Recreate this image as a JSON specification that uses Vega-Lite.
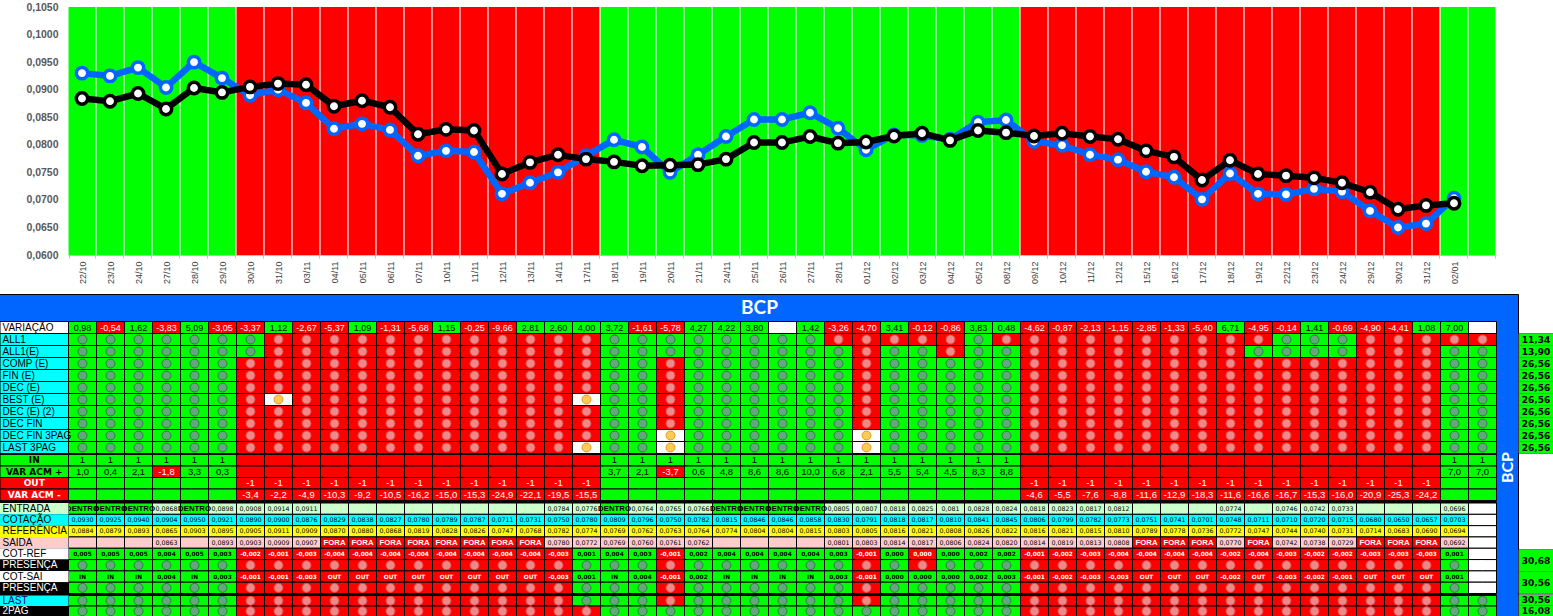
{"$schema":"https://vega.github.io/schema/vega-lite/v6.json","width":1553,"height":616,"padding":0,"autosize":"none","background":"white","config":{"view":{"stroke":null}},
"datasets":{
"chart":[{"d":"22/10","f":0.105,"e":"G","cot":0.0930,"ref":0.0884},{"d":"23/10","f":0.105,"e":"G","cot":0.0925,"ref":0.0879},{"d":"24/10","f":0.105,"e":"G","cot":0.0940,"ref":0.0893},{"d":"27/10","f":0.105,"e":"G","cot":0.0904,"ref":0.0865},{"d":"28/10","f":0.105,"e":"G","cot":0.0950,"ref":0.0903},{"d":"29/10","f":0.105,"e":"G","cot":0.0921,"ref":0.0895},{"d":"30/10","f":0.105,"e":"R","cot":0.0890,"ref":0.0905},{"d":"31/10","f":0.105,"e":"R","cot":0.0900,"ref":0.0911},{"d":"03/11","f":0.105,"e":"R","cot":0.0876,"ref":0.0909},{"d":"04/11","f":0.105,"e":"R","cot":0.0829,"ref":0.0870},{"d":"05/11","f":0.105,"e":"R","cot":0.0838,"ref":0.0880},{"d":"06/11","f":0.105,"e":"R","cot":0.0827,"ref":0.0868},{"d":"07/11","f":0.105,"e":"R","cot":0.0780,"ref":0.0819},{"d":"10/11","f":0.105,"e":"R","cot":0.0789,"ref":0.0828},{"d":"11/11","f":0.105,"e":"R","cot":0.0787,"ref":0.0826},{"d":"12/11","f":0.105,"e":"R","cot":0.0711,"ref":0.0747},{"d":"13/11","f":0.105,"e":"R","cot":0.0731,"ref":0.0768},{"d":"14/11","f":0.105,"e":"R","cot":0.0750,"ref":0.0782},{"d":"17/11","f":0.105,"e":"R","cot":0.0780,"ref":0.0774},{"d":"18/11","f":0.105,"e":"G","cot":0.0809,"ref":0.0769},{"d":"19/11","f":0.105,"e":"G","cot":0.0796,"ref":0.0762},{"d":"20/11","f":0.105,"e":"G","cot":0.0750,"ref":0.0763},{"d":"21/11","f":0.105,"e":"G","cot":0.0782,"ref":0.0764},{"d":"24/11","f":0.105,"e":"G","cot":0.0815,"ref":0.0774},{"d":"25/11","f":0.105,"e":"G","cot":0.0846,"ref":0.0804},{"d":"26/11","f":0.105,"e":"G","cot":0.0846,"ref":0.0804},{"d":"27/11","f":0.105,"e":"G","cot":0.0858,"ref":0.0815},{"d":"28/11","f":0.105,"e":"G","cot":0.0830,"ref":0.0803},{"d":"01/12","f":0.105,"e":"G","cot":0.0791,"ref":0.0805},{"d":"02/12","f":0.105,"e":"G","cot":0.0818,"ref":0.0816},{"d":"03/12","f":0.105,"e":"G","cot":0.0817,"ref":0.0821},{"d":"04/12","f":0.105,"e":"G","cot":0.0810,"ref":0.0808},{"d":"05/12","f":0.105,"e":"G","cot":0.0841,"ref":0.0826},{"d":"08/12","f":0.105,"e":"G","cot":0.0845,"ref":0.0822},{"d":"09/12","f":0.105,"e":"R","cot":0.0806,"ref":0.0816},{"d":"10/12","f":0.105,"e":"R","cot":0.0799,"ref":0.0821},{"d":"11/12","f":0.105,"e":"R","cot":0.0782,"ref":0.0815},{"d":"12/12","f":0.105,"e":"R","cot":0.0773,"ref":0.0810},{"d":"15/12","f":0.105,"e":"R","cot":0.0751,"ref":0.0789},{"d":"16/12","f":0.105,"e":"R","cot":0.0741,"ref":0.0778},{"d":"17/12","f":0.105,"e":"R","cot":0.0701,"ref":0.0736},{"d":"18/12","f":0.105,"e":"R","cot":0.0748,"ref":0.0772},{"d":"19/12","f":0.105,"e":"R","cot":0.0711,"ref":0.0747},{"d":"22/12","f":0.105,"e":"R","cot":0.0710,"ref":0.0744},{"d":"23/12","f":0.105,"e":"R","cot":0.0720,"ref":0.0740},{"d":"24/12","f":0.105,"e":"R","cot":0.0715,"ref":0.0731},{"d":"29/12","f":0.105,"e":"R","cot":0.0680,"ref":0.0714},{"d":"30/12","f":0.105,"e":"R","cot":0.0650,"ref":0.0683},{"d":"31/12","f":0.105,"e":"R","cot":0.0657,"ref":0.0690},{"d":"02/01","f":0.105,"e":"G","cot":0.0703,"ref":0.0694},{"d":" ","f":0.105,"e":"G","cot":null,"ref":null}],
"quadro":[{"q":"BCP"}],
"rotulos":[{"s":"A","l":"VARIAÇÃO","k":"branco"},{"s":"A","l":"ALL1","k":"ciano"},{"s":"A","l":"ALL1(E)","k":"ciano"},{"s":"A","l":"COMP (E)","k":"ciano"},{"s":"A","l":"FIN (E)","k":"ciano"},{"s":"A","l":"DEC (E)","k":"ciano"},{"s":"A","l":"BEST (E)","k":"ciano"},{"s":"A","l":"DEC (E) (2)","k":"ciano"},{"s":"A","l":"DEC FIN","k":"ciano"},{"s":"A","l":"DEC FIN 3PAG","k":"ciano"},{"s":"A","l":"LAST 3PAG","k":"ciano"},{"s":"B","l":"IN","k":"verde"},{"s":"B","l":"VAR ACM +","k":"verde"},{"s":"B","l":"OUT","k":"vermelho"},{"s":"B","l":"VAR ACM -","k":"vermelho"},{"s":"C","l":"ENTRADA","k":"claro"},{"s":"C","l":"COTAÇÃO","k":"ciano"},{"s":"C","l":"REFERÊNCIA","k":"amarelo"},{"s":"C","l":"SAIDA","k":"rosa"},{"s":"C","l":"COT-REF","k":"branco"},{"s":"C","l":"PRESENÇA","k":"preto"},{"s":"C","l":"COT-SAI","k":"branco"},{"s":"C","l":"PRESENÇA ","k":"preto"},{"s":"E","l":"LAST","k":"azul"},{"s":"E","l":"2PAG","k":"preto"}],
"totais":[{"s":"A","l":"ALL1","v":"11,34"},{"s":"A","l":"ALL1(E)","v":"13,90"},{"s":"A","l":"COMP (E)","v":"26,56"},{"s":"A","l":"FIN (E)","v":"26,56"},{"s":"A","l":"DEC (E)","v":"26,56"},{"s":"A","l":"BEST (E)","v":"26,56"},{"s":"A","l":"DEC (E) (2)","v":"26,56"},{"s":"A","l":"DEC FIN","v":"26,56"},{"s":"A","l":"DEC FIN 3PAG","v":"26,56"},{"s":"A","l":"LAST 3PAG","v":"26,56"},{"s":"C","l":"REF","v":"30,68"},{"s":"C","l":"SAI","v":"30,56"},{"s":"E","l":"LAST","v":"30,56"},{"s":"E","l":"2PAG","v":"16,08"}],
"A":[
{"l":"VARIAÇÃO","c":0,"e":"G","t":"0,98"},{"l":"VARIAÇÃO","c":1,"e":"R","t":"-0,54"},{"l":"VARIAÇÃO","c":2,"e":"G","t":"1,62"},{"l":"VARIAÇÃO","c":3,"e":"R","t":"-3,83"},{"l":"VARIAÇÃO","c":4,"e":"G","t":"5,09"},{"l":"VARIAÇÃO","c":5,"e":"R","t":"-3,05"},{"l":"VARIAÇÃO","c":6,"e":"R","t":"-3,37"},{"l":"VARIAÇÃO","c":7,"e":"G","t":"1,12"},{"l":"VARIAÇÃO","c":8,"e":"R","t":"-2,67"},{"l":"VARIAÇÃO","c":9,"e":"R","t":"-5,37"},{"l":"VARIAÇÃO","c":10,"e":"G","t":"1,09"},{"l":"VARIAÇÃO","c":11,"e":"R","t":"-1,31"},{"l":"VARIAÇÃO","c":12,"e":"R","t":"-5,68"},{"l":"VARIAÇÃO","c":13,"e":"G","t":"1,15"},{"l":"VARIAÇÃO","c":14,"e":"R","t":"-0,25"},{"l":"VARIAÇÃO","c":15,"e":"R","t":"-9,66"},{"l":"VARIAÇÃO","c":16,"e":"G","t":"2,81"},{"l":"VARIAÇÃO","c":17,"e":"G","t":"2,60"},{"l":"VARIAÇÃO","c":18,"e":"G","t":"4,00"},{"l":"VARIAÇÃO","c":19,"e":"G","t":"3,72"},{"l":"VARIAÇÃO","c":20,"e":"R","t":"-1,61"},{"l":"VARIAÇÃO","c":21,"e":"R","t":"-5,78"},{"l":"VARIAÇÃO","c":22,"e":"G","t":"4,27"},{"l":"VARIAÇÃO","c":23,"e":"G","t":"4,22"},{"l":"VARIAÇÃO","c":24,"e":"G","t":"3,80"},{"l":"VARIAÇÃO","c":25,"e":"W"},{"l":"VARIAÇÃO","c":26,"e":"G","t":"1,42"},{"l":"VARIAÇÃO","c":27,"e":"R","t":"-3,26"},{"l":"VARIAÇÃO","c":28,"e":"R","t":"-4,70"},{"l":"VARIAÇÃO","c":29,"e":"G","t":"3,41"},{"l":"VARIAÇÃO","c":30,"e":"R","t":"-0,12"},{"l":"VARIAÇÃO","c":31,"e":"R","t":"-0,86"},{"l":"VARIAÇÃO","c":32,"e":"G","t":"3,83"},{"l":"VARIAÇÃO","c":33,"e":"G","t":"0,48"},{"l":"VARIAÇÃO","c":34,"e":"R","t":"-4,62"},{"l":"VARIAÇÃO","c":35,"e":"R","t":"-0,87"},{"l":"VARIAÇÃO","c":36,"e":"R","t":"-2,13"},{"l":"VARIAÇÃO","c":37,"e":"R","t":"-1,15"},{"l":"VARIAÇÃO","c":38,"e":"R","t":"-2,85"},{"l":"VARIAÇÃO","c":39,"e":"R","t":"-1,33"},{"l":"VARIAÇÃO","c":40,"e":"R","t":"-5,40"},{"l":"VARIAÇÃO","c":41,"e":"G","t":"6,71"},{"l":"VARIAÇÃO","c":42,"e":"R","t":"-4,95"},{"l":"VARIAÇÃO","c":43,"e":"R","t":"-0,14"},{"l":"VARIAÇÃO","c":44,"e":"G","t":"1,41"},{"l":"VARIAÇÃO","c":45,"e":"R","t":"-0,69"},{"l":"VARIAÇÃO","c":46,"e":"R","t":"-4,90"},{"l":"VARIAÇÃO","c":47,"e":"R","t":"-4,41"},{"l":"VARIAÇÃO","c":48,"e":"G","t":"1,08"},{"l":"VARIAÇÃO","c":49,"e":"G","t":"7,00"},{"l":"VARIAÇÃO","c":50,"e":"W"},
{"l":"ALL1","c":0,"e":"G"},{"l":"ALL1","c":1,"e":"G"},{"l":"ALL1","c":2,"e":"G"},{"l":"ALL1","c":3,"e":"G"},{"l":"ALL1","c":4,"e":"G"},{"l":"ALL1","c":5,"e":"G"},{"l":"ALL1","c":6,"e":"G"},{"l":"ALL1","c":7,"e":"R"},{"l":"ALL1","c":8,"e":"R"},{"l":"ALL1","c":9,"e":"R"},{"l":"ALL1","c":10,"e":"R"},{"l":"ALL1","c":11,"e":"R"},{"l":"ALL1","c":12,"e":"R"},{"l":"ALL1","c":13,"e":"R"},{"l":"ALL1","c":14,"e":"R"},{"l":"ALL1","c":15,"e":"R"},{"l":"ALL1","c":16,"e":"R"},{"l":"ALL1","c":17,"e":"R"},{"l":"ALL1","c":18,"e":"R"},{"l":"ALL1","c":19,"e":"G"},{"l":"ALL1","c":20,"e":"G"},{"l":"ALL1","c":21,"e":"G"},{"l":"ALL1","c":22,"e":"G"},{"l":"ALL1","c":23,"e":"G"},{"l":"ALL1","c":24,"e":"G"},{"l":"ALL1","c":25,"e":"G"},{"l":"ALL1","c":26,"e":"G"},{"l":"ALL1","c":27,"e":"R"},{"l":"ALL1","c":28,"e":"R"},{"l":"ALL1","c":29,"e":"R"},{"l":"ALL1","c":30,"e":"R"},{"l":"ALL1","c":31,"e":"R"},{"l":"ALL1","c":32,"e":"G"},{"l":"ALL1","c":33,"e":"R"},{"l":"ALL1","c":34,"e":"R"},{"l":"ALL1","c":35,"e":"R"},{"l":"ALL1","c":36,"e":"R"},{"l":"ALL1","c":37,"e":"R"},{"l":"ALL1","c":38,"e":"R"},{"l":"ALL1","c":39,"e":"R"},{"l":"ALL1","c":40,"e":"R"},{"l":"ALL1","c":41,"e":"R"},{"l":"ALL1","c":42,"e":"R"},{"l":"ALL1","c":43,"e":"G"},{"l":"ALL1","c":44,"e":"G"},{"l":"ALL1","c":45,"e":"G"},{"l":"ALL1","c":46,"e":"R"},{"l":"ALL1","c":47,"e":"R"},{"l":"ALL1","c":48,"e":"R"},{"l":"ALL1","c":49,"e":"R"},{"l":"ALL1","c":50,"e":"R"},
{"l":"ALL1(E)","c":0,"e":"G"},{"l":"ALL1(E)","c":1,"e":"G"},{"l":"ALL1(E)","c":2,"e":"G"},{"l":"ALL1(E)","c":3,"e":"G"},{"l":"ALL1(E)","c":4,"e":"G"},{"l":"ALL1(E)","c":5,"e":"G"},{"l":"ALL1(E)","c":6,"e":"G"},{"l":"ALL1(E)","c":7,"e":"R"},{"l":"ALL1(E)","c":8,"e":"R"},{"l":"ALL1(E)","c":9,"e":"R"},{"l":"ALL1(E)","c":10,"e":"R"},{"l":"ALL1(E)","c":11,"e":"R"},{"l":"ALL1(E)","c":12,"e":"R"},{"l":"ALL1(E)","c":13,"e":"R"},{"l":"ALL1(E)","c":14,"e":"R"},{"l":"ALL1(E)","c":15,"e":"R"},{"l":"ALL1(E)","c":16,"e":"R"},{"l":"ALL1(E)","c":17,"e":"R"},{"l":"ALL1(E)","c":18,"e":"R"},{"l":"ALL1(E)","c":19,"e":"G"},{"l":"ALL1(E)","c":20,"e":"G"},{"l":"ALL1(E)","c":21,"e":"G"},{"l":"ALL1(E)","c":22,"e":"G"},{"l":"ALL1(E)","c":23,"e":"G"},{"l":"ALL1(E)","c":24,"e":"G"},{"l":"ALL1(E)","c":25,"e":"G"},{"l":"ALL1(E)","c":26,"e":"G"},{"l":"ALL1(E)","c":27,"e":"G"},{"l":"ALL1(E)","c":28,"e":"R"},{"l":"ALL1(E)","c":29,"e":"G"},{"l":"ALL1(E)","c":30,"e":"G"},{"l":"ALL1(E)","c":31,"e":"R"},{"l":"ALL1(E)","c":32,"e":"G"},{"l":"ALL1(E)","c":33,"e":"G"},{"l":"ALL1(E)","c":34,"e":"R"},{"l":"ALL1(E)","c":35,"e":"R"},{"l":"ALL1(E)","c":36,"e":"R"},{"l":"ALL1(E)","c":37,"e":"R"},{"l":"ALL1(E)","c":38,"e":"R"},{"l":"ALL1(E)","c":39,"e":"R"},{"l":"ALL1(E)","c":40,"e":"R"},{"l":"ALL1(E)","c":41,"e":"R"},{"l":"ALL1(E)","c":42,"e":"G"},{"l":"ALL1(E)","c":43,"e":"G"},{"l":"ALL1(E)","c":44,"e":"G"},{"l":"ALL1(E)","c":45,"e":"G"},{"l":"ALL1(E)","c":46,"e":"R"},{"l":"ALL1(E)","c":47,"e":"R"},{"l":"ALL1(E)","c":48,"e":"R"},{"l":"ALL1(E)","c":49,"e":"G"},{"l":"ALL1(E)","c":50,"e":"G"},
{"l":"COMP (E)","c":0,"e":"G"},{"l":"COMP (E)","c":1,"e":"G"},{"l":"COMP (E)","c":2,"e":"G"},{"l":"COMP (E)","c":3,"e":"G"},{"l":"COMP (E)","c":4,"e":"G"},{"l":"COMP (E)","c":5,"e":"G"},{"l":"COMP (E)","c":6,"e":"R"},{"l":"COMP (E)","c":7,"e":"R"},{"l":"COMP (E)","c":8,"e":"R"},{"l":"COMP (E)","c":9,"e":"R"},{"l":"COMP (E)","c":10,"e":"R"},{"l":"COMP (E)","c":11,"e":"R"},{"l":"COMP (E)","c":12,"e":"R"},{"l":"COMP (E)","c":13,"e":"R"},{"l":"COMP (E)","c":14,"e":"R"},{"l":"COMP (E)","c":15,"e":"R"},{"l":"COMP (E)","c":16,"e":"R"},{"l":"COMP (E)","c":17,"e":"R"},{"l":"COMP (E)","c":18,"e":"R"},{"l":"COMP (E)","c":19,"e":"G"},{"l":"COMP (E)","c":20,"e":"G"},{"l":"COMP (E)","c":21,"e":"R"},{"l":"COMP (E)","c":22,"e":"G"},{"l":"COMP (E)","c":23,"e":"G"},{"l":"COMP (E)","c":24,"e":"G"},{"l":"COMP (E)","c":25,"e":"G"},{"l":"COMP (E)","c":26,"e":"G"},{"l":"COMP (E)","c":27,"e":"G"},{"l":"COMP (E)","c":28,"e":"R"},{"l":"COMP (E)","c":29,"e":"G"},{"l":"COMP (E)","c":30,"e":"G"},{"l":"COMP (E)","c":31,"e":"G"},{"l":"COMP (E)","c":32,"e":"G"},{"l":"COMP (E)","c":33,"e":"G"},{"l":"COMP (E)","c":34,"e":"R"},{"l":"COMP (E)","c":35,"e":"R"},{"l":"COMP (E)","c":36,"e":"R"},{"l":"COMP (E)","c":37,"e":"R"},{"l":"COMP (E)","c":38,"e":"R"},{"l":"COMP (E)","c":39,"e":"R"},{"l":"COMP (E)","c":40,"e":"R"},{"l":"COMP (E)","c":41,"e":"R"},{"l":"COMP (E)","c":42,"e":"R"},{"l":"COMP (E)","c":43,"e":"R"},{"l":"COMP (E)","c":44,"e":"R"},{"l":"COMP (E)","c":45,"e":"R"},{"l":"COMP (E)","c":46,"e":"R"},{"l":"COMP (E)","c":47,"e":"R"},{"l":"COMP (E)","c":48,"e":"R"},{"l":"COMP (E)","c":49,"e":"G"},{"l":"COMP (E)","c":50,"e":"G"},
{"l":"FIN (E)","c":0,"e":"G"},{"l":"FIN (E)","c":1,"e":"G"},{"l":"FIN (E)","c":2,"e":"G"},{"l":"FIN (E)","c":3,"e":"G"},{"l":"FIN (E)","c":4,"e":"G"},{"l":"FIN (E)","c":5,"e":"G"},{"l":"FIN (E)","c":6,"e":"R"},{"l":"FIN (E)","c":7,"e":"R"},{"l":"FIN (E)","c":8,"e":"R"},{"l":"FIN (E)","c":9,"e":"R"},{"l":"FIN (E)","c":10,"e":"R"},{"l":"FIN (E)","c":11,"e":"R"},{"l":"FIN (E)","c":12,"e":"R"},{"l":"FIN (E)","c":13,"e":"R"},{"l":"FIN (E)","c":14,"e":"R"},{"l":"FIN (E)","c":15,"e":"R"},{"l":"FIN (E)","c":16,"e":"R"},{"l":"FIN (E)","c":17,"e":"R"},{"l":"FIN (E)","c":18,"e":"R"},{"l":"FIN (E)","c":19,"e":"G"},{"l":"FIN (E)","c":20,"e":"G"},{"l":"FIN (E)","c":21,"e":"R"},{"l":"FIN (E)","c":22,"e":"G"},{"l":"FIN (E)","c":23,"e":"G"},{"l":"FIN (E)","c":24,"e":"G"},{"l":"FIN (E)","c":25,"e":"G"},{"l":"FIN (E)","c":26,"e":"G"},{"l":"FIN (E)","c":27,"e":"G"},{"l":"FIN (E)","c":28,"e":"R"},{"l":"FIN (E)","c":29,"e":"G"},{"l":"FIN (E)","c":30,"e":"G"},{"l":"FIN (E)","c":31,"e":"G"},{"l":"FIN (E)","c":32,"e":"G"},{"l":"FIN (E)","c":33,"e":"G"},{"l":"FIN (E)","c":34,"e":"R"},{"l":"FIN (E)","c":35,"e":"R"},{"l":"FIN (E)","c":36,"e":"R"},{"l":"FIN (E)","c":37,"e":"R"},{"l":"FIN (E)","c":38,"e":"R"},{"l":"FIN (E)","c":39,"e":"R"},{"l":"FIN (E)","c":40,"e":"R"},{"l":"FIN (E)","c":41,"e":"R"},{"l":"FIN (E)","c":42,"e":"R"},{"l":"FIN (E)","c":43,"e":"R"},{"l":"FIN (E)","c":44,"e":"R"},{"l":"FIN (E)","c":45,"e":"R"},{"l":"FIN (E)","c":46,"e":"R"},{"l":"FIN (E)","c":47,"e":"R"},{"l":"FIN (E)","c":48,"e":"R"},{"l":"FIN (E)","c":49,"e":"G"},{"l":"FIN (E)","c":50,"e":"G"},
{"l":"DEC (E)","c":0,"e":"G"},{"l":"DEC (E)","c":1,"e":"G"},{"l":"DEC (E)","c":2,"e":"G"},{"l":"DEC (E)","c":3,"e":"G"},{"l":"DEC (E)","c":4,"e":"G"},{"l":"DEC (E)","c":5,"e":"G"},{"l":"DEC (E)","c":6,"e":"R"},{"l":"DEC (E)","c":7,"e":"R"},{"l":"DEC (E)","c":8,"e":"R"},{"l":"DEC (E)","c":9,"e":"R"},{"l":"DEC (E)","c":10,"e":"R"},{"l":"DEC (E)","c":11,"e":"R"},{"l":"DEC (E)","c":12,"e":"R"},{"l":"DEC (E)","c":13,"e":"R"},{"l":"DEC (E)","c":14,"e":"R"},{"l":"DEC (E)","c":15,"e":"R"},{"l":"DEC (E)","c":16,"e":"R"},{"l":"DEC (E)","c":17,"e":"R"},{"l":"DEC (E)","c":18,"e":"R"},{"l":"DEC (E)","c":19,"e":"G"},{"l":"DEC (E)","c":20,"e":"G"},{"l":"DEC (E)","c":21,"e":"R"},{"l":"DEC (E)","c":22,"e":"G"},{"l":"DEC (E)","c":23,"e":"G"},{"l":"DEC (E)","c":24,"e":"G"},{"l":"DEC (E)","c":25,"e":"G"},{"l":"DEC (E)","c":26,"e":"G"},{"l":"DEC (E)","c":27,"e":"G"},{"l":"DEC (E)","c":28,"e":"R"},{"l":"DEC (E)","c":29,"e":"G"},{"l":"DEC (E)","c":30,"e":"G"},{"l":"DEC (E)","c":31,"e":"G"},{"l":"DEC (E)","c":32,"e":"G"},{"l":"DEC (E)","c":33,"e":"G"},{"l":"DEC (E)","c":34,"e":"R"},{"l":"DEC (E)","c":35,"e":"R"},{"l":"DEC (E)","c":36,"e":"R"},{"l":"DEC (E)","c":37,"e":"R"},{"l":"DEC (E)","c":38,"e":"R"},{"l":"DEC (E)","c":39,"e":"R"},{"l":"DEC (E)","c":40,"e":"R"},{"l":"DEC (E)","c":41,"e":"R"},{"l":"DEC (E)","c":42,"e":"R"},{"l":"DEC (E)","c":43,"e":"R"},{"l":"DEC (E)","c":44,"e":"R"},{"l":"DEC (E)","c":45,"e":"R"},{"l":"DEC (E)","c":46,"e":"R"},{"l":"DEC (E)","c":47,"e":"R"},{"l":"DEC (E)","c":48,"e":"R"},{"l":"DEC (E)","c":49,"e":"G"},{"l":"DEC (E)","c":50,"e":"G"},
{"l":"BEST (E)","c":0,"e":"G"},{"l":"BEST (E)","c":1,"e":"G"},{"l":"BEST (E)","c":2,"e":"G"},{"l":"BEST (E)","c":3,"e":"G"},{"l":"BEST (E)","c":4,"e":"G"},{"l":"BEST (E)","c":5,"e":"G"},{"l":"BEST (E)","c":6,"e":"R"},{"l":"BEST (E)","c":7,"e":"W"},{"l":"BEST (E)","c":8,"e":"R"},{"l":"BEST (E)","c":9,"e":"R"},{"l":"BEST (E)","c":10,"e":"R"},{"l":"BEST (E)","c":11,"e":"R"},{"l":"BEST (E)","c":12,"e":"R"},{"l":"BEST (E)","c":13,"e":"R"},{"l":"BEST (E)","c":14,"e":"R"},{"l":"BEST (E)","c":15,"e":"R"},{"l":"BEST (E)","c":16,"e":"R"},{"l":"BEST (E)","c":17,"e":"R"},{"l":"BEST (E)","c":18,"e":"W"},{"l":"BEST (E)","c":19,"e":"G"},{"l":"BEST (E)","c":20,"e":"G"},{"l":"BEST (E)","c":21,"e":"R"},{"l":"BEST (E)","c":22,"e":"G"},{"l":"BEST (E)","c":23,"e":"G"},{"l":"BEST (E)","c":24,"e":"G"},{"l":"BEST (E)","c":25,"e":"G"},{"l":"BEST (E)","c":26,"e":"G"},{"l":"BEST (E)","c":27,"e":"G"},{"l":"BEST (E)","c":28,"e":"R"},{"l":"BEST (E)","c":29,"e":"G"},{"l":"BEST (E)","c":30,"e":"G"},{"l":"BEST (E)","c":31,"e":"G"},{"l":"BEST (E)","c":32,"e":"G"},{"l":"BEST (E)","c":33,"e":"G"},{"l":"BEST (E)","c":34,"e":"R"},{"l":"BEST (E)","c":35,"e":"R"},{"l":"BEST (E)","c":36,"e":"R"},{"l":"BEST (E)","c":37,"e":"R"},{"l":"BEST (E)","c":38,"e":"R"},{"l":"BEST (E)","c":39,"e":"R"},{"l":"BEST (E)","c":40,"e":"R"},{"l":"BEST (E)","c":41,"e":"R"},{"l":"BEST (E)","c":42,"e":"R"},{"l":"BEST (E)","c":43,"e":"R"},{"l":"BEST (E)","c":44,"e":"R"},{"l":"BEST (E)","c":45,"e":"R"},{"l":"BEST (E)","c":46,"e":"R"},{"l":"BEST (E)","c":47,"e":"R"},{"l":"BEST (E)","c":48,"e":"R"},{"l":"BEST (E)","c":49,"e":"G"},{"l":"BEST (E)","c":50,"e":"G"},
{"l":"DEC (E) (2)","c":0,"e":"G"},{"l":"DEC (E) (2)","c":1,"e":"G"},{"l":"DEC (E) (2)","c":2,"e":"G"},{"l":"DEC (E) (2)","c":3,"e":"G"},{"l":"DEC (E) (2)","c":4,"e":"G"},{"l":"DEC (E) (2)","c":5,"e":"G"},{"l":"DEC (E) (2)","c":6,"e":"R"},{"l":"DEC (E) (2)","c":7,"e":"R"},{"l":"DEC (E) (2)","c":8,"e":"R"},{"l":"DEC (E) (2)","c":9,"e":"R"},{"l":"DEC (E) (2)","c":10,"e":"R"},{"l":"DEC (E) (2)","c":11,"e":"R"},{"l":"DEC (E) (2)","c":12,"e":"R"},{"l":"DEC (E) (2)","c":13,"e":"R"},{"l":"DEC (E) (2)","c":14,"e":"R"},{"l":"DEC (E) (2)","c":15,"e":"R"},{"l":"DEC (E) (2)","c":16,"e":"R"},{"l":"DEC (E) (2)","c":17,"e":"R"},{"l":"DEC (E) (2)","c":18,"e":"R"},{"l":"DEC (E) (2)","c":19,"e":"G"},{"l":"DEC (E) (2)","c":20,"e":"G"},{"l":"DEC (E) (2)","c":21,"e":"R"},{"l":"DEC (E) (2)","c":22,"e":"G"},{"l":"DEC (E) (2)","c":23,"e":"G"},{"l":"DEC (E) (2)","c":24,"e":"G"},{"l":"DEC (E) (2)","c":25,"e":"G"},{"l":"DEC (E) (2)","c":26,"e":"G"},{"l":"DEC (E) (2)","c":27,"e":"G"},{"l":"DEC (E) (2)","c":28,"e":"R"},{"l":"DEC (E) (2)","c":29,"e":"G"},{"l":"DEC (E) (2)","c":30,"e":"G"},{"l":"DEC (E) (2)","c":31,"e":"G"},{"l":"DEC (E) (2)","c":32,"e":"G"},{"l":"DEC (E) (2)","c":33,"e":"G"},{"l":"DEC (E) (2)","c":34,"e":"R"},{"l":"DEC (E) (2)","c":35,"e":"R"},{"l":"DEC (E) (2)","c":36,"e":"R"},{"l":"DEC (E) (2)","c":37,"e":"R"},{"l":"DEC (E) (2)","c":38,"e":"R"},{"l":"DEC (E) (2)","c":39,"e":"R"},{"l":"DEC (E) (2)","c":40,"e":"R"},{"l":"DEC (E) (2)","c":41,"e":"R"},{"l":"DEC (E) (2)","c":42,"e":"R"},{"l":"DEC (E) (2)","c":43,"e":"R"},{"l":"DEC (E) (2)","c":44,"e":"R"},{"l":"DEC (E) (2)","c":45,"e":"R"},{"l":"DEC (E) (2)","c":46,"e":"R"},{"l":"DEC (E) (2)","c":47,"e":"R"},{"l":"DEC (E) (2)","c":48,"e":"R"},{"l":"DEC (E) (2)","c":49,"e":"G"},{"l":"DEC (E) (2)","c":50,"e":"G"},
{"l":"DEC FIN","c":0,"e":"G"},{"l":"DEC FIN","c":1,"e":"G"},{"l":"DEC FIN","c":2,"e":"G"},{"l":"DEC FIN","c":3,"e":"G"},{"l":"DEC FIN","c":4,"e":"G"},{"l":"DEC FIN","c":5,"e":"G"},{"l":"DEC FIN","c":6,"e":"R"},{"l":"DEC FIN","c":7,"e":"R"},{"l":"DEC FIN","c":8,"e":"R"},{"l":"DEC FIN","c":9,"e":"R"},{"l":"DEC FIN","c":10,"e":"R"},{"l":"DEC FIN","c":11,"e":"R"},{"l":"DEC FIN","c":12,"e":"R"},{"l":"DEC FIN","c":13,"e":"R"},{"l":"DEC FIN","c":14,"e":"R"},{"l":"DEC FIN","c":15,"e":"R"},{"l":"DEC FIN","c":16,"e":"R"},{"l":"DEC FIN","c":17,"e":"R"},{"l":"DEC FIN","c":18,"e":"R"},{"l":"DEC FIN","c":19,"e":"G"},{"l":"DEC FIN","c":20,"e":"G"},{"l":"DEC FIN","c":21,"e":"R"},{"l":"DEC FIN","c":22,"e":"G"},{"l":"DEC FIN","c":23,"e":"G"},{"l":"DEC FIN","c":24,"e":"G"},{"l":"DEC FIN","c":25,"e":"G"},{"l":"DEC FIN","c":26,"e":"G"},{"l":"DEC FIN","c":27,"e":"G"},{"l":"DEC FIN","c":28,"e":"R"},{"l":"DEC FIN","c":29,"e":"G"},{"l":"DEC FIN","c":30,"e":"G"},{"l":"DEC FIN","c":31,"e":"G"},{"l":"DEC FIN","c":32,"e":"G"},{"l":"DEC FIN","c":33,"e":"G"},{"l":"DEC FIN","c":34,"e":"R"},{"l":"DEC FIN","c":35,"e":"R"},{"l":"DEC FIN","c":36,"e":"R"},{"l":"DEC FIN","c":37,"e":"R"},{"l":"DEC FIN","c":38,"e":"R"},{"l":"DEC FIN","c":39,"e":"R"},{"l":"DEC FIN","c":40,"e":"R"},{"l":"DEC FIN","c":41,"e":"R"},{"l":"DEC FIN","c":42,"e":"R"},{"l":"DEC FIN","c":43,"e":"R"},{"l":"DEC FIN","c":44,"e":"R"},{"l":"DEC FIN","c":45,"e":"R"},{"l":"DEC FIN","c":46,"e":"R"},{"l":"DEC FIN","c":47,"e":"R"},{"l":"DEC FIN","c":48,"e":"R"},{"l":"DEC FIN","c":49,"e":"G"},{"l":"DEC FIN","c":50,"e":"G"},
{"l":"DEC FIN 3PAG","c":0,"e":"G"},{"l":"DEC FIN 3PAG","c":1,"e":"G"},{"l":"DEC FIN 3PAG","c":2,"e":"G"},{"l":"DEC FIN 3PAG","c":3,"e":"G"},{"l":"DEC FIN 3PAG","c":4,"e":"G"},{"l":"DEC FIN 3PAG","c":5,"e":"G"},{"l":"DEC FIN 3PAG","c":6,"e":"R"},{"l":"DEC FIN 3PAG","c":7,"e":"R"},{"l":"DEC FIN 3PAG","c":8,"e":"R"},{"l":"DEC FIN 3PAG","c":9,"e":"R"},{"l":"DEC FIN 3PAG","c":10,"e":"R"},{"l":"DEC FIN 3PAG","c":11,"e":"R"},{"l":"DEC FIN 3PAG","c":12,"e":"R"},{"l":"DEC FIN 3PAG","c":13,"e":"R"},{"l":"DEC FIN 3PAG","c":14,"e":"R"},{"l":"DEC FIN 3PAG","c":15,"e":"R"},{"l":"DEC FIN 3PAG","c":16,"e":"R"},{"l":"DEC FIN 3PAG","c":17,"e":"R"},{"l":"DEC FIN 3PAG","c":18,"e":"R"},{"l":"DEC FIN 3PAG","c":19,"e":"G"},{"l":"DEC FIN 3PAG","c":20,"e":"G"},{"l":"DEC FIN 3PAG","c":21,"e":"W"},{"l":"DEC FIN 3PAG","c":22,"e":"G"},{"l":"DEC FIN 3PAG","c":23,"e":"G"},{"l":"DEC FIN 3PAG","c":24,"e":"G"},{"l":"DEC FIN 3PAG","c":25,"e":"G"},{"l":"DEC FIN 3PAG","c":26,"e":"G"},{"l":"DEC FIN 3PAG","c":27,"e":"G"},{"l":"DEC FIN 3PAG","c":28,"e":"W"},{"l":"DEC FIN 3PAG","c":29,"e":"G"},{"l":"DEC FIN 3PAG","c":30,"e":"G"},{"l":"DEC FIN 3PAG","c":31,"e":"G"},{"l":"DEC FIN 3PAG","c":32,"e":"G"},{"l":"DEC FIN 3PAG","c":33,"e":"G"},{"l":"DEC FIN 3PAG","c":34,"e":"R"},{"l":"DEC FIN 3PAG","c":35,"e":"R"},{"l":"DEC FIN 3PAG","c":36,"e":"R"},{"l":"DEC FIN 3PAG","c":37,"e":"R"},{"l":"DEC FIN 3PAG","c":38,"e":"R"},{"l":"DEC FIN 3PAG","c":39,"e":"R"},{"l":"DEC FIN 3PAG","c":40,"e":"R"},{"l":"DEC FIN 3PAG","c":41,"e":"R"},{"l":"DEC FIN 3PAG","c":42,"e":"R"},{"l":"DEC FIN 3PAG","c":43,"e":"R"},{"l":"DEC FIN 3PAG","c":44,"e":"R"},{"l":"DEC FIN 3PAG","c":45,"e":"R"},{"l":"DEC FIN 3PAG","c":46,"e":"R"},{"l":"DEC FIN 3PAG","c":47,"e":"R"},{"l":"DEC FIN 3PAG","c":48,"e":"R"},{"l":"DEC FIN 3PAG","c":49,"e":"G"},{"l":"DEC FIN 3PAG","c":50,"e":"G"},
{"l":"LAST 3PAG","c":0,"e":"G"},{"l":"LAST 3PAG","c":1,"e":"G"},{"l":"LAST 3PAG","c":2,"e":"G"},{"l":"LAST 3PAG","c":3,"e":"G"},{"l":"LAST 3PAG","c":4,"e":"G"},{"l":"LAST 3PAG","c":5,"e":"G"},{"l":"LAST 3PAG","c":6,"e":"R"},{"l":"LAST 3PAG","c":7,"e":"R"},{"l":"LAST 3PAG","c":8,"e":"R"},{"l":"LAST 3PAG","c":9,"e":"R"},{"l":"LAST 3PAG","c":10,"e":"R"},{"l":"LAST 3PAG","c":11,"e":"R"},{"l":"LAST 3PAG","c":12,"e":"R"},{"l":"LAST 3PAG","c":13,"e":"R"},{"l":"LAST 3PAG","c":14,"e":"R"},{"l":"LAST 3PAG","c":15,"e":"R"},{"l":"LAST 3PAG","c":16,"e":"R"},{"l":"LAST 3PAG","c":17,"e":"R"},{"l":"LAST 3PAG","c":18,"e":"W"},{"l":"LAST 3PAG","c":19,"e":"G"},{"l":"LAST 3PAG","c":20,"e":"G"},{"l":"LAST 3PAG","c":21,"e":"W"},{"l":"LAST 3PAG","c":22,"e":"G"},{"l":"LAST 3PAG","c":23,"e":"G"},{"l":"LAST 3PAG","c":24,"e":"G"},{"l":"LAST 3PAG","c":25,"e":"G"},{"l":"LAST 3PAG","c":26,"e":"G"},{"l":"LAST 3PAG","c":27,"e":"G"},{"l":"LAST 3PAG","c":28,"e":"W"},{"l":"LAST 3PAG","c":29,"e":"G"},{"l":"LAST 3PAG","c":30,"e":"G"},{"l":"LAST 3PAG","c":31,"e":"G"},{"l":"LAST 3PAG","c":32,"e":"G"},{"l":"LAST 3PAG","c":33,"e":"G"},{"l":"LAST 3PAG","c":34,"e":"R"},{"l":"LAST 3PAG","c":35,"e":"R"},{"l":"LAST 3PAG","c":36,"e":"R"},{"l":"LAST 3PAG","c":37,"e":"R"},{"l":"LAST 3PAG","c":38,"e":"R"},{"l":"LAST 3PAG","c":39,"e":"R"},{"l":"LAST 3PAG","c":40,"e":"R"},{"l":"LAST 3PAG","c":41,"e":"R"},{"l":"LAST 3PAG","c":42,"e":"R"},{"l":"LAST 3PAG","c":43,"e":"R"},{"l":"LAST 3PAG","c":44,"e":"R"},{"l":"LAST 3PAG","c":45,"e":"R"},{"l":"LAST 3PAG","c":46,"e":"R"},{"l":"LAST 3PAG","c":47,"e":"R"},{"l":"LAST 3PAG","c":48,"e":"R"},{"l":"LAST 3PAG","c":49,"e":"G"},{"l":"LAST 3PAG","c":50,"e":"G"}
],
"B":[
{"l":"IN","c":0,"e":"G","t":"1"},{"l":"IN","c":1,"e":"G","t":"1"},{"l":"IN","c":2,"e":"G","t":"1"},{"l":"IN","c":3,"e":"G","t":"1"},{"l":"IN","c":4,"e":"G","t":"1"},{"l":"IN","c":5,"e":"G","t":"1"},{"l":"IN","c":6,"e":"R"},{"l":"IN","c":7,"e":"R"},{"l":"IN","c":8,"e":"R"},{"l":"IN","c":9,"e":"R"},{"l":"IN","c":10,"e":"R"},{"l":"IN","c":11,"e":"R"},{"l":"IN","c":12,"e":"R"},{"l":"IN","c":13,"e":"R"},{"l":"IN","c":14,"e":"R"},{"l":"IN","c":15,"e":"R"},{"l":"IN","c":16,"e":"R"},{"l":"IN","c":17,"e":"R"},{"l":"IN","c":18,"e":"R"},{"l":"IN","c":19,"e":"G","t":"1"},{"l":"IN","c":20,"e":"G","t":"1"},{"l":"IN","c":21,"e":"G","t":"1"},{"l":"IN","c":22,"e":"G","t":"1"},{"l":"IN","c":23,"e":"G","t":"1"},{"l":"IN","c":24,"e":"G","t":"1"},{"l":"IN","c":25,"e":"G","t":"1"},{"l":"IN","c":26,"e":"G","t":"1"},{"l":"IN","c":27,"e":"G","t":"1"},{"l":"IN","c":28,"e":"G","t":"1"},{"l":"IN","c":29,"e":"G","t":"1"},{"l":"IN","c":30,"e":"G","t":"1"},{"l":"IN","c":31,"e":"G","t":"1"},{"l":"IN","c":32,"e":"G","t":"1"},{"l":"IN","c":33,"e":"G","t":"1"},{"l":"IN","c":34,"e":"R"},{"l":"IN","c":35,"e":"R"},{"l":"IN","c":36,"e":"R"},{"l":"IN","c":37,"e":"R"},{"l":"IN","c":38,"e":"R"},{"l":"IN","c":39,"e":"R"},{"l":"IN","c":40,"e":"R"},{"l":"IN","c":41,"e":"R"},{"l":"IN","c":42,"e":"R"},{"l":"IN","c":43,"e":"R"},{"l":"IN","c":44,"e":"R"},{"l":"IN","c":45,"e":"R"},{"l":"IN","c":46,"e":"R"},{"l":"IN","c":47,"e":"R"},{"l":"IN","c":48,"e":"R"},{"l":"IN","c":49,"e":"G","t":"1"},{"l":"IN","c":50,"e":"G","t":"1"},
{"l":"VAR ACM +","c":0,"e":"G","t":"1,0"},{"l":"VAR ACM +","c":1,"e":"G","t":"0,4"},{"l":"VAR ACM +","c":2,"e":"G","t":"2,1"},{"l":"VAR ACM +","c":3,"e":"R","t":"-1,8"},{"l":"VAR ACM +","c":4,"e":"G","t":"3,3"},{"l":"VAR ACM +","c":5,"e":"G","t":"0,3"},{"l":"VAR ACM +","c":6,"e":"R"},{"l":"VAR ACM +","c":7,"e":"R"},{"l":"VAR ACM +","c":8,"e":"R"},{"l":"VAR ACM +","c":9,"e":"R"},{"l":"VAR ACM +","c":10,"e":"R"},{"l":"VAR ACM +","c":11,"e":"R"},{"l":"VAR ACM +","c":12,"e":"R"},{"l":"VAR ACM +","c":13,"e":"R"},{"l":"VAR ACM +","c":14,"e":"R"},{"l":"VAR ACM +","c":15,"e":"R"},{"l":"VAR ACM +","c":16,"e":"R"},{"l":"VAR ACM +","c":17,"e":"R"},{"l":"VAR ACM +","c":18,"e":"R"},{"l":"VAR ACM +","c":19,"e":"G","t":"3,7"},{"l":"VAR ACM +","c":20,"e":"G","t":"2,1"},{"l":"VAR ACM +","c":21,"e":"R","t":"-3,7"},{"l":"VAR ACM +","c":22,"e":"G","t":"0,6"},{"l":"VAR ACM +","c":23,"e":"G","t":"4,8"},{"l":"VAR ACM +","c":24,"e":"G","t":"8,6"},{"l":"VAR ACM +","c":25,"e":"G","t":"8,6"},{"l":"VAR ACM +","c":26,"e":"G","t":"10,0"},{"l":"VAR ACM +","c":27,"e":"G","t":"6,8"},{"l":"VAR ACM +","c":28,"e":"G","t":"2,1"},{"l":"VAR ACM +","c":29,"e":"G","t":"5,5"},{"l":"VAR ACM +","c":30,"e":"G","t":"5,4"},{"l":"VAR ACM +","c":31,"e":"G","t":"4,5"},{"l":"VAR ACM +","c":32,"e":"G","t":"8,3"},{"l":"VAR ACM +","c":33,"e":"G","t":"8,8"},{"l":"VAR ACM +","c":34,"e":"R"},{"l":"VAR ACM +","c":35,"e":"R"},{"l":"VAR ACM +","c":36,"e":"R"},{"l":"VAR ACM +","c":37,"e":"R"},{"l":"VAR ACM +","c":38,"e":"R"},{"l":"VAR ACM +","c":39,"e":"R"},{"l":"VAR ACM +","c":40,"e":"R"},{"l":"VAR ACM +","c":41,"e":"R"},{"l":"VAR ACM +","c":42,"e":"R"},{"l":"VAR ACM +","c":43,"e":"R"},{"l":"VAR ACM +","c":44,"e":"R"},{"l":"VAR ACM +","c":45,"e":"R"},{"l":"VAR ACM +","c":46,"e":"R"},{"l":"VAR ACM +","c":47,"e":"R"},{"l":"VAR ACM +","c":48,"e":"R"},{"l":"VAR ACM +","c":49,"e":"G","t":"7,0"},{"l":"VAR ACM +","c":50,"e":"G","t":"7,0"},
{"l":"OUT","c":0,"e":"G"},{"l":"OUT","c":1,"e":"G"},{"l":"OUT","c":2,"e":"G"},{"l":"OUT","c":3,"e":"G"},{"l":"OUT","c":4,"e":"G"},{"l":"OUT","c":5,"e":"G"},{"l":"OUT","c":6,"e":"R","t":"-1"},{"l":"OUT","c":7,"e":"R","t":"-1"},{"l":"OUT","c":8,"e":"R","t":"-1"},{"l":"OUT","c":9,"e":"R","t":"-1"},{"l":"OUT","c":10,"e":"R","t":"-1"},{"l":"OUT","c":11,"e":"R","t":"-1"},{"l":"OUT","c":12,"e":"R","t":"-1"},{"l":"OUT","c":13,"e":"R","t":"-1"},{"l":"OUT","c":14,"e":"R","t":"-1"},{"l":"OUT","c":15,"e":"R","t":"-1"},{"l":"OUT","c":16,"e":"R","t":"-1"},{"l":"OUT","c":17,"e":"R","t":"-1"},{"l":"OUT","c":18,"e":"R","t":"-1"},{"l":"OUT","c":19,"e":"G"},{"l":"OUT","c":20,"e":"G"},{"l":"OUT","c":21,"e":"G"},{"l":"OUT","c":22,"e":"G"},{"l":"OUT","c":23,"e":"G"},{"l":"OUT","c":24,"e":"G"},{"l":"OUT","c":25,"e":"G"},{"l":"OUT","c":26,"e":"G"},{"l":"OUT","c":27,"e":"G"},{"l":"OUT","c":28,"e":"G"},{"l":"OUT","c":29,"e":"G"},{"l":"OUT","c":30,"e":"G"},{"l":"OUT","c":31,"e":"G"},{"l":"OUT","c":32,"e":"G"},{"l":"OUT","c":33,"e":"G"},{"l":"OUT","c":34,"e":"R","t":"-1"},{"l":"OUT","c":35,"e":"R","t":"-1"},{"l":"OUT","c":36,"e":"R","t":"-1"},{"l":"OUT","c":37,"e":"R","t":"-1"},{"l":"OUT","c":38,"e":"R","t":"-1"},{"l":"OUT","c":39,"e":"R","t":"-1"},{"l":"OUT","c":40,"e":"R","t":"-1"},{"l":"OUT","c":41,"e":"R","t":"-1"},{"l":"OUT","c":42,"e":"R","t":"-1"},{"l":"OUT","c":43,"e":"R","t":"-1"},{"l":"OUT","c":44,"e":"R","t":"-1"},{"l":"OUT","c":45,"e":"R","t":"-1"},{"l":"OUT","c":46,"e":"R","t":"-1"},{"l":"OUT","c":47,"e":"R","t":"-1"},{"l":"OUT","c":48,"e":"R","t":"-1"},{"l":"OUT","c":49,"e":"G"},{"l":"OUT","c":50,"e":"G"},
{"l":"VAR ACM -","c":0,"e":"G"},{"l":"VAR ACM -","c":1,"e":"G"},{"l":"VAR ACM -","c":2,"e":"G"},{"l":"VAR ACM -","c":3,"e":"G"},{"l":"VAR ACM -","c":4,"e":"G"},{"l":"VAR ACM -","c":5,"e":"G"},{"l":"VAR ACM -","c":6,"e":"R","t":"-3,4"},{"l":"VAR ACM -","c":7,"e":"R","t":"-2,2"},{"l":"VAR ACM -","c":8,"e":"R","t":"-4,9"},{"l":"VAR ACM -","c":9,"e":"R","t":"-10,3"},{"l":"VAR ACM -","c":10,"e":"R","t":"-9,2"},{"l":"VAR ACM -","c":11,"e":"R","t":"-10,5"},{"l":"VAR ACM -","c":12,"e":"R","t":"-16,2"},{"l":"VAR ACM -","c":13,"e":"R","t":"-15,0"},{"l":"VAR ACM -","c":14,"e":"R","t":"-15,3"},{"l":"VAR ACM -","c":15,"e":"R","t":"-24,9"},{"l":"VAR ACM -","c":16,"e":"R","t":"-22,1"},{"l":"VAR ACM -","c":17,"e":"R","t":"-19,5"},{"l":"VAR ACM -","c":18,"e":"R","t":"-15,5"},{"l":"VAR ACM -","c":19,"e":"G"},{"l":"VAR ACM -","c":20,"e":"G"},{"l":"VAR ACM -","c":21,"e":"G"},{"l":"VAR ACM -","c":22,"e":"G"},{"l":"VAR ACM -","c":23,"e":"G"},{"l":"VAR ACM -","c":24,"e":"G"},{"l":"VAR ACM -","c":25,"e":"G"},{"l":"VAR ACM -","c":26,"e":"G"},{"l":"VAR ACM -","c":27,"e":"G"},{"l":"VAR ACM -","c":28,"e":"G"},{"l":"VAR ACM -","c":29,"e":"G"},{"l":"VAR ACM -","c":30,"e":"G"},{"l":"VAR ACM -","c":31,"e":"G"},{"l":"VAR ACM -","c":32,"e":"G"},{"l":"VAR ACM -","c":33,"e":"G"},{"l":"VAR ACM -","c":34,"e":"R","t":"-4,6"},{"l":"VAR ACM -","c":35,"e":"R","t":"-5,5"},{"l":"VAR ACM -","c":36,"e":"R","t":"-7,6"},{"l":"VAR ACM -","c":37,"e":"R","t":"-8,8"},{"l":"VAR ACM -","c":38,"e":"R","t":"-11,6"},{"l":"VAR ACM -","c":39,"e":"R","t":"-12,9"},{"l":"VAR ACM -","c":40,"e":"R","t":"-18,3"},{"l":"VAR ACM -","c":41,"e":"R","t":"-11,6"},{"l":"VAR ACM -","c":42,"e":"R","t":"-16,6"},{"l":"VAR ACM -","c":43,"e":"R","t":"-16,7"},{"l":"VAR ACM -","c":44,"e":"R","t":"-15,3"},{"l":"VAR ACM -","c":45,"e":"R","t":"-16,0"},{"l":"VAR ACM -","c":46,"e":"R","t":"-20,9"},{"l":"VAR ACM -","c":47,"e":"R","t":"-25,3"},{"l":"VAR ACM -","c":48,"e":"R","t":"-24,2"},{"l":"VAR ACM -","c":49,"e":"G"},{"l":"VAR ACM -","c":50,"e":"G"}
],
"C":[
{"l":"ENTRADA","c":0,"e":"G","t":"DENTRO"},{"l":"ENTRADA","c":1,"e":"G","t":"DENTRO"},{"l":"ENTRADA","c":2,"e":"G","t":"DENTRO"},{"l":"ENTRADA","c":3,"e":"E","t":"0,0868"},{"l":"ENTRADA","c":4,"e":"G","t":"DENTRO"},{"l":"ENTRADA","c":5,"e":"E","t":"0,0898"},{"l":"ENTRADA","c":6,"e":"E","t":"0,0908"},{"l":"ENTRADA","c":7,"e":"E","t":"0,0914"},{"l":"ENTRADA","c":8,"e":"E","t":"0,0911"},{"l":"ENTRADA","c":9,"e":"E"},{"l":"ENTRADA","c":10,"e":"E"},{"l":"ENTRADA","c":11,"e":"E"},{"l":"ENTRADA","c":12,"e":"E"},{"l":"ENTRADA","c":13,"e":"E"},{"l":"ENTRADA","c":14,"e":"E"},{"l":"ENTRADA","c":15,"e":"E"},{"l":"ENTRADA","c":16,"e":"E"},{"l":"ENTRADA","c":17,"e":"E","t":"0,0784"},{"l":"ENTRADA","c":18,"e":"E","t":"0,0776"},{"l":"ENTRADA","c":19,"e":"G","t":"DENTRO"},{"l":"ENTRADA","c":20,"e":"E","t":"0,0764"},{"l":"ENTRADA","c":21,"e":"E","t":"0,0765"},{"l":"ENTRADA","c":22,"e":"E","t":"0,0766"},{"l":"ENTRADA","c":23,"e":"G","t":"DENTRO"},{"l":"ENTRADA","c":24,"e":"G","t":"DENTRO"},{"l":"ENTRADA","c":25,"e":"G","t":"DENTRO"},{"l":"ENTRADA","c":26,"e":"G","t":"DENTRO"},{"l":"ENTRADA","c":27,"e":"E","t":"0,0805"},{"l":"ENTRADA","c":28,"e":"E","t":"0,0807"},{"l":"ENTRADA","c":29,"e":"E","t":"0,0818"},{"l":"ENTRADA","c":30,"e":"E","t":"0,0825"},{"l":"ENTRADA","c":31,"e":"E","t":"0,081"},{"l":"ENTRADA","c":32,"e":"E","t":"0,0828"},{"l":"ENTRADA","c":33,"e":"E","t":"0,0824"},{"l":"ENTRADA","c":34,"e":"E","t":"0,0818"},{"l":"ENTRADA","c":35,"e":"E","t":"0,0823"},{"l":"ENTRADA","c":36,"e":"E","t":"0,0817"},{"l":"ENTRADA","c":37,"e":"E","t":"0,0812"},{"l":"ENTRADA","c":38,"e":"E"},{"l":"ENTRADA","c":39,"e":"E"},{"l":"ENTRADA","c":40,"e":"E"},{"l":"ENTRADA","c":41,"e":"E","t":"0,0774"},{"l":"ENTRADA","c":42,"e":"E"},{"l":"ENTRADA","c":43,"e":"E","t":"0,0746"},{"l":"ENTRADA","c":44,"e":"E","t":"0,0742"},{"l":"ENTRADA","c":45,"e":"E","t":"0,0733"},{"l":"ENTRADA","c":46,"e":"E"},{"l":"ENTRADA","c":47,"e":"E"},{"l":"ENTRADA","c":48,"e":"E"},{"l":"ENTRADA","c":49,"e":"E","t":"0,0696"},{"l":"ENTRADA","c":50,"e":"W"},
{"l":"COTAÇÃO","c":0,"e":"C","t":"0,0930"},{"l":"COTAÇÃO","c":1,"e":"C","t":"0,0925"},{"l":"COTAÇÃO","c":2,"e":"C","t":"0,0940"},{"l":"COTAÇÃO","c":3,"e":"C","t":"0,0904"},{"l":"COTAÇÃO","c":4,"e":"C","t":"0,0950"},{"l":"COTAÇÃO","c":5,"e":"C","t":"0,0921"},{"l":"COTAÇÃO","c":6,"e":"C","t":"0,0890"},{"l":"COTAÇÃO","c":7,"e":"C","t":"0,0900"},{"l":"COTAÇÃO","c":8,"e":"C","t":"0,0876"},{"l":"COTAÇÃO","c":9,"e":"C","t":"0,0829"},{"l":"COTAÇÃO","c":10,"e":"C","t":"0,0838"},{"l":"COTAÇÃO","c":11,"e":"C","t":"0,0827"},{"l":"COTAÇÃO","c":12,"e":"C","t":"0,0780"},{"l":"COTAÇÃO","c":13,"e":"C","t":"0,0789"},{"l":"COTAÇÃO","c":14,"e":"C","t":"0,0787"},{"l":"COTAÇÃO","c":15,"e":"C","t":"0,0711"},{"l":"COTAÇÃO","c":16,"e":"C","t":"0,0731"},{"l":"COTAÇÃO","c":17,"e":"C","t":"0,0750"},{"l":"COTAÇÃO","c":18,"e":"C","t":"0,0780"},{"l":"COTAÇÃO","c":19,"e":"C","t":"0,0809"},{"l":"COTAÇÃO","c":20,"e":"C","t":"0,0796"},{"l":"COTAÇÃO","c":21,"e":"C","t":"0,0750"},{"l":"COTAÇÃO","c":22,"e":"C","t":"0,0782"},{"l":"COTAÇÃO","c":23,"e":"C","t":"0,0815"},{"l":"COTAÇÃO","c":24,"e":"C","t":"0,0846"},{"l":"COTAÇÃO","c":25,"e":"C","t":"0,0846"},{"l":"COTAÇÃO","c":26,"e":"C","t":"0,0858"},{"l":"COTAÇÃO","c":27,"e":"C","t":"0,0830"},{"l":"COTAÇÃO","c":28,"e":"C","t":"0,0791"},{"l":"COTAÇÃO","c":29,"e":"C","t":"0,0818"},{"l":"COTAÇÃO","c":30,"e":"C","t":"0,0817"},{"l":"COTAÇÃO","c":31,"e":"C","t":"0,0810"},{"l":"COTAÇÃO","c":32,"e":"C","t":"0,0841"},{"l":"COTAÇÃO","c":33,"e":"C","t":"0,0845"},{"l":"COTAÇÃO","c":34,"e":"C","t":"0,0806"},{"l":"COTAÇÃO","c":35,"e":"C","t":"0,0799"},{"l":"COTAÇÃO","c":36,"e":"C","t":"0,0782"},{"l":"COTAÇÃO","c":37,"e":"C","t":"0,0773"},{"l":"COTAÇÃO","c":38,"e":"C","t":"0,0751"},{"l":"COTAÇÃO","c":39,"e":"C","t":"0,0741"},{"l":"COTAÇÃO","c":40,"e":"C","t":"0,0701"},{"l":"COTAÇÃO","c":41,"e":"C","t":"0,0748"},{"l":"COTAÇÃO","c":42,"e":"C","t":"0,0711"},{"l":"COTAÇÃO","c":43,"e":"C","t":"0,0710"},{"l":"COTAÇÃO","c":44,"e":"C","t":"0,0720"},{"l":"COTAÇÃO","c":45,"e":"C","t":"0,0715"},{"l":"COTAÇÃO","c":46,"e":"C","t":"0,0680"},{"l":"COTAÇÃO","c":47,"e":"C","t":"0,0650"},{"l":"COTAÇÃO","c":48,"e":"C","t":"0,0657"},{"l":"COTAÇÃO","c":49,"e":"C","t":"0,0703"},{"l":"COTAÇÃO","c":50,"e":"W"},
{"l":"REFERÊNCIA","c":0,"e":"Y","t":"0,0884"},{"l":"REFERÊNCIA","c":1,"e":"Y","t":"0,0879"},{"l":"REFERÊNCIA","c":2,"e":"Y","t":"0,0893"},{"l":"REFERÊNCIA","c":3,"e":"Y","t":"0,0865"},{"l":"REFERÊNCIA","c":4,"e":"Y","t":"0,0903"},{"l":"REFERÊNCIA","c":5,"e":"Y","t":"0,0895"},{"l":"REFERÊNCIA","c":6,"e":"Y","t":"0,0905"},{"l":"REFERÊNCIA","c":7,"e":"Y","t":"0,0911"},{"l":"REFERÊNCIA","c":8,"e":"Y","t":"0,0909"},{"l":"REFERÊNCIA","c":9,"e":"Y","t":"0,0870"},{"l":"REFERÊNCIA","c":10,"e":"Y","t":"0,0880"},{"l":"REFERÊNCIA","c":11,"e":"Y","t":"0,0868"},{"l":"REFERÊNCIA","c":12,"e":"Y","t":"0,0819"},{"l":"REFERÊNCIA","c":13,"e":"Y","t":"0,0828"},{"l":"REFERÊNCIA","c":14,"e":"Y","t":"0,0826"},{"l":"REFERÊNCIA","c":15,"e":"Y","t":"0,0747"},{"l":"REFERÊNCIA","c":16,"e":"Y","t":"0,0768"},{"l":"REFERÊNCIA","c":17,"e":"Y","t":"0,0782"},{"l":"REFERÊNCIA","c":18,"e":"Y","t":"0,0774"},{"l":"REFERÊNCIA","c":19,"e":"Y","t":"0,0769"},{"l":"REFERÊNCIA","c":20,"e":"Y","t":"0,0762"},{"l":"REFERÊNCIA","c":21,"e":"Y","t":"0,0763"},{"l":"REFERÊNCIA","c":22,"e":"Y","t":"0,0764"},{"l":"REFERÊNCIA","c":23,"e":"Y","t":"0,0774"},{"l":"REFERÊNCIA","c":24,"e":"Y","t":"0,0804"},{"l":"REFERÊNCIA","c":25,"e":"Y","t":"0,0804"},{"l":"REFERÊNCIA","c":26,"e":"Y","t":"0,0815"},{"l":"REFERÊNCIA","c":27,"e":"Y","t":"0,0803"},{"l":"REFERÊNCIA","c":28,"e":"Y","t":"0,0805"},{"l":"REFERÊNCIA","c":29,"e":"Y","t":"0,0816"},{"l":"REFERÊNCIA","c":30,"e":"Y","t":"0,0821"},{"l":"REFERÊNCIA","c":31,"e":"Y","t":"0,0808"},{"l":"REFERÊNCIA","c":32,"e":"Y","t":"0,0826"},{"l":"REFERÊNCIA","c":33,"e":"Y","t":"0,0822"},{"l":"REFERÊNCIA","c":34,"e":"Y","t":"0,0816"},{"l":"REFERÊNCIA","c":35,"e":"Y","t":"0,0821"},{"l":"REFERÊNCIA","c":36,"e":"Y","t":"0,0815"},{"l":"REFERÊNCIA","c":37,"e":"Y","t":"0,0810"},{"l":"REFERÊNCIA","c":38,"e":"Y","t":"0,0789"},{"l":"REFERÊNCIA","c":39,"e":"Y","t":"0,0778"},{"l":"REFERÊNCIA","c":40,"e":"Y","t":"0,0736"},{"l":"REFERÊNCIA","c":41,"e":"Y","t":"0,0772"},{"l":"REFERÊNCIA","c":42,"e":"Y","t":"0,0747"},{"l":"REFERÊNCIA","c":43,"e":"Y","t":"0,0744"},{"l":"REFERÊNCIA","c":44,"e":"Y","t":"0,0740"},{"l":"REFERÊNCIA","c":45,"e":"Y","t":"0,0731"},{"l":"REFERÊNCIA","c":46,"e":"Y","t":"0,0714"},{"l":"REFERÊNCIA","c":47,"e":"Y","t":"0,0683"},{"l":"REFERÊNCIA","c":48,"e":"Y","t":"0,0690"},{"l":"REFERÊNCIA","c":49,"e":"Y","t":"0,0694"},{"l":"REFERÊNCIA","c":50,"e":"W"},
{"l":"SAIDA","c":0,"e":"P"},{"l":"SAIDA","c":1,"e":"P"},{"l":"SAIDA","c":2,"e":"P"},{"l":"SAIDA","c":3,"e":"P","t":"0,0863"},{"l":"SAIDA","c":4,"e":"P"},{"l":"SAIDA","c":5,"e":"P","t":"0,0893"},{"l":"SAIDA","c":6,"e":"P","t":"0,0903"},{"l":"SAIDA","c":7,"e":"P","t":"0,0909"},{"l":"SAIDA","c":8,"e":"P","t":"0,0907"},{"l":"SAIDA","c":9,"e":"R","t":"FORA"},{"l":"SAIDA","c":10,"e":"R","t":"FORA"},{"l":"SAIDA","c":11,"e":"R","t":"FORA"},{"l":"SAIDA","c":12,"e":"R","t":"FORA"},{"l":"SAIDA","c":13,"e":"R","t":"FORA"},{"l":"SAIDA","c":14,"e":"R","t":"FORA"},{"l":"SAIDA","c":15,"e":"R","t":"FORA"},{"l":"SAIDA","c":16,"e":"R","t":"FORA"},{"l":"SAIDA","c":17,"e":"P","t":"0,0780"},{"l":"SAIDA","c":18,"e":"P","t":"0,0772"},{"l":"SAIDA","c":19,"e":"P","t":"0,0769"},{"l":"SAIDA","c":20,"e":"P","t":"0,0760"},{"l":"SAIDA","c":21,"e":"P","t":"0,0761"},{"l":"SAIDA","c":22,"e":"P","t":"0,0762"},{"l":"SAIDA","c":23,"e":"P"},{"l":"SAIDA","c":24,"e":"P"},{"l":"SAIDA","c":25,"e":"P"},{"l":"SAIDA","c":26,"e":"P"},{"l":"SAIDA","c":27,"e":"P","t":"0,0801"},{"l":"SAIDA","c":28,"e":"P","t":"0,0803"},{"l":"SAIDA","c":29,"e":"P","t":"0,0814"},{"l":"SAIDA","c":30,"e":"P","t":"0,0817"},{"l":"SAIDA","c":31,"e":"P","t":"0,0806"},{"l":"SAIDA","c":32,"e":"P","t":"0,0824"},{"l":"SAIDA","c":33,"e":"P","t":"0,0820"},{"l":"SAIDA","c":34,"e":"P","t":"0,0814"},{"l":"SAIDA","c":35,"e":"P","t":"0,0819"},{"l":"SAIDA","c":36,"e":"P","t":"0,0813"},{"l":"SAIDA","c":37,"e":"P","t":"0,0808"},{"l":"SAIDA","c":38,"e":"R","t":"FORA"},{"l":"SAIDA","c":39,"e":"R","t":"FORA"},{"l":"SAIDA","c":40,"e":"R","t":"FORA"},{"l":"SAIDA","c":41,"e":"P","t":"0,0770"},{"l":"SAIDA","c":42,"e":"R","t":"FORA"},{"l":"SAIDA","c":43,"e":"P","t":"0,0742"},{"l":"SAIDA","c":44,"e":"P","t":"0,0738"},{"l":"SAIDA","c":45,"e":"P","t":"0,0729"},{"l":"SAIDA","c":46,"e":"R","t":"FORA"},{"l":"SAIDA","c":47,"e":"R","t":"FORA"},{"l":"SAIDA","c":48,"e":"R","t":"FORA"},{"l":"SAIDA","c":49,"e":"P","t":"0,0692"},{"l":"SAIDA","c":50,"e":"W"},
{"l":"COT-REF","c":0,"e":"G","t":"0,005"},{"l":"COT-REF","c":1,"e":"G","t":"0,005"},{"l":"COT-REF","c":2,"e":"G","t":"0,005"},{"l":"COT-REF","c":3,"e":"G","t":"0,004"},{"l":"COT-REF","c":4,"e":"G","t":"0,005"},{"l":"COT-REF","c":5,"e":"G","t":"0,003"},{"l":"COT-REF","c":6,"e":"R","t":"-0,002"},{"l":"COT-REF","c":7,"e":"R","t":"-0,001"},{"l":"COT-REF","c":8,"e":"R","t":"-0,003"},{"l":"COT-REF","c":9,"e":"R","t":"-0,004"},{"l":"COT-REF","c":10,"e":"R","t":"-0,004"},{"l":"COT-REF","c":11,"e":"R","t":"-0,004"},{"l":"COT-REF","c":12,"e":"R","t":"-0,004"},{"l":"COT-REF","c":13,"e":"R","t":"-0,004"},{"l":"COT-REF","c":14,"e":"R","t":"-0,004"},{"l":"COT-REF","c":15,"e":"R","t":"-0,004"},{"l":"COT-REF","c":16,"e":"R","t":"-0,004"},{"l":"COT-REF","c":17,"e":"R","t":"-0,003"},{"l":"COT-REF","c":18,"e":"G","t":"0,001"},{"l":"COT-REF","c":19,"e":"G","t":"0,004"},{"l":"COT-REF","c":20,"e":"G","t":"0,003"},{"l":"COT-REF","c":21,"e":"R","t":"-0,001"},{"l":"COT-REF","c":22,"e":"G","t":"0,002"},{"l":"COT-REF","c":23,"e":"G","t":"0,004"},{"l":"COT-REF","c":24,"e":"G","t":"0,004"},{"l":"COT-REF","c":25,"e":"G","t":"0,004"},{"l":"COT-REF","c":26,"e":"G","t":"0,004"},{"l":"COT-REF","c":27,"e":"G","t":"0,003"},{"l":"COT-REF","c":28,"e":"R","t":"-0,001"},{"l":"COT-REF","c":29,"e":"G","t":"0,000"},{"l":"COT-REF","c":30,"e":"R","t":"0,000"},{"l":"COT-REF","c":31,"e":"G","t":"0,000"},{"l":"COT-REF","c":32,"e":"G","t":"0,002"},{"l":"COT-REF","c":33,"e":"G","t":"0,002"},{"l":"COT-REF","c":34,"e":"R","t":"-0,001"},{"l":"COT-REF","c":35,"e":"R","t":"-0,002"},{"l":"COT-REF","c":36,"e":"R","t":"-0,003"},{"l":"COT-REF","c":37,"e":"R","t":"-0,004"},{"l":"COT-REF","c":38,"e":"R","t":"-0,004"},{"l":"COT-REF","c":39,"e":"R","t":"-0,004"},{"l":"COT-REF","c":40,"e":"R","t":"-0,004"},{"l":"COT-REF","c":41,"e":"R","t":"-0,002"},{"l":"COT-REF","c":42,"e":"R","t":"-0,004"},{"l":"COT-REF","c":43,"e":"R","t":"-0,003"},{"l":"COT-REF","c":44,"e":"R","t":"-0,002"},{"l":"COT-REF","c":45,"e":"R","t":"-0,002"},{"l":"COT-REF","c":46,"e":"R","t":"-0,003"},{"l":"COT-REF","c":47,"e":"R","t":"-0,003"},{"l":"COT-REF","c":48,"e":"R","t":"-0,003"},{"l":"COT-REF","c":49,"e":"G","t":"0,001"},{"l":"COT-REF","c":50,"e":"W"},
{"l":"PRESENÇA","c":0,"e":"G"},{"l":"PRESENÇA","c":1,"e":"G"},{"l":"PRESENÇA","c":2,"e":"G"},{"l":"PRESENÇA","c":3,"e":"G"},{"l":"PRESENÇA","c":4,"e":"G"},{"l":"PRESENÇA","c":5,"e":"G"},{"l":"PRESENÇA","c":6,"e":"R"},{"l":"PRESENÇA","c":7,"e":"R"},{"l":"PRESENÇA","c":8,"e":"R"},{"l":"PRESENÇA","c":9,"e":"R"},{"l":"PRESENÇA","c":10,"e":"R"},{"l":"PRESENÇA","c":11,"e":"R"},{"l":"PRESENÇA","c":12,"e":"R"},{"l":"PRESENÇA","c":13,"e":"R"},{"l":"PRESENÇA","c":14,"e":"R"},{"l":"PRESENÇA","c":15,"e":"R"},{"l":"PRESENÇA","c":16,"e":"R"},{"l":"PRESENÇA","c":17,"e":"R"},{"l":"PRESENÇA","c":18,"e":"G"},{"l":"PRESENÇA","c":19,"e":"G"},{"l":"PRESENÇA","c":20,"e":"G"},{"l":"PRESENÇA","c":21,"e":"R"},{"l":"PRESENÇA","c":22,"e":"G"},{"l":"PRESENÇA","c":23,"e":"G"},{"l":"PRESENÇA","c":24,"e":"G"},{"l":"PRESENÇA","c":25,"e":"G"},{"l":"PRESENÇA","c":26,"e":"G"},{"l":"PRESENÇA","c":27,"e":"G"},{"l":"PRESENÇA","c":28,"e":"R"},{"l":"PRESENÇA","c":29,"e":"G"},{"l":"PRESENÇA","c":30,"e":"R"},{"l":"PRESENÇA","c":31,"e":"G"},{"l":"PRESENÇA","c":32,"e":"G"},{"l":"PRESENÇA","c":33,"e":"G"},{"l":"PRESENÇA","c":34,"e":"R"},{"l":"PRESENÇA","c":35,"e":"R"},{"l":"PRESENÇA","c":36,"e":"R"},{"l":"PRESENÇA","c":37,"e":"R"},{"l":"PRESENÇA","c":38,"e":"R"},{"l":"PRESENÇA","c":39,"e":"R"},{"l":"PRESENÇA","c":40,"e":"R"},{"l":"PRESENÇA","c":41,"e":"R"},{"l":"PRESENÇA","c":42,"e":"R"},{"l":"PRESENÇA","c":43,"e":"R"},{"l":"PRESENÇA","c":44,"e":"R"},{"l":"PRESENÇA","c":45,"e":"R"},{"l":"PRESENÇA","c":46,"e":"R"},{"l":"PRESENÇA","c":47,"e":"R"},{"l":"PRESENÇA","c":48,"e":"R"},{"l":"PRESENÇA","c":49,"e":"G"},{"l":"PRESENÇA","c":50,"e":"W"},
{"l":"COT-SAI","c":0,"e":"G","t":"IN"},{"l":"COT-SAI","c":1,"e":"G","t":"IN"},{"l":"COT-SAI","c":2,"e":"G","t":"IN"},{"l":"COT-SAI","c":3,"e":"G","t":"0,004"},{"l":"COT-SAI","c":4,"e":"G","t":"IN"},{"l":"COT-SAI","c":5,"e":"G","t":"0,003"},{"l":"COT-SAI","c":6,"e":"R","t":"-0,001"},{"l":"COT-SAI","c":7,"e":"R","t":"-0,001"},{"l":"COT-SAI","c":8,"e":"R","t":"-0,003"},{"l":"COT-SAI","c":9,"e":"R","t":"OUT"},{"l":"COT-SAI","c":10,"e":"R","t":"OUT"},{"l":"COT-SAI","c":11,"e":"R","t":"OUT"},{"l":"COT-SAI","c":12,"e":"R","t":"OUT"},{"l":"COT-SAI","c":13,"e":"R","t":"OUT"},{"l":"COT-SAI","c":14,"e":"R","t":"OUT"},{"l":"COT-SAI","c":15,"e":"R","t":"OUT"},{"l":"COT-SAI","c":16,"e":"R","t":"OUT"},{"l":"COT-SAI","c":17,"e":"R","t":"-0,003"},{"l":"COT-SAI","c":18,"e":"G","t":"0,001"},{"l":"COT-SAI","c":19,"e":"G","t":"IN"},{"l":"COT-SAI","c":20,"e":"G","t":"0,004"},{"l":"COT-SAI","c":21,"e":"R","t":"-0,001"},{"l":"COT-SAI","c":22,"e":"G","t":"0,002"},{"l":"COT-SAI","c":23,"e":"G","t":"IN"},{"l":"COT-SAI","c":24,"e":"G","t":"IN"},{"l":"COT-SAI","c":25,"e":"G","t":"IN"},{"l":"COT-SAI","c":26,"e":"G","t":"IN"},{"l":"COT-SAI","c":27,"e":"G","t":"0,003"},{"l":"COT-SAI","c":28,"e":"R","t":"-0,001"},{"l":"COT-SAI","c":29,"e":"G","t":"0,000"},{"l":"COT-SAI","c":30,"e":"G","t":"0,000"},{"l":"COT-SAI","c":31,"e":"G","t":"0,000"},{"l":"COT-SAI","c":32,"e":"G","t":"0,002"},{"l":"COT-SAI","c":33,"e":"G","t":"0,003"},{"l":"COT-SAI","c":34,"e":"R","t":"-0,001"},{"l":"COT-SAI","c":35,"e":"R","t":"-0,002"},{"l":"COT-SAI","c":36,"e":"R","t":"-0,003"},{"l":"COT-SAI","c":37,"e":"R","t":"-0,003"},{"l":"COT-SAI","c":38,"e":"R","t":"OUT"},{"l":"COT-SAI","c":39,"e":"R","t":"OUT"},{"l":"COT-SAI","c":40,"e":"R","t":"OUT"},{"l":"COT-SAI","c":41,"e":"R","t":"-0,002"},{"l":"COT-SAI","c":42,"e":"R","t":"OUT"},{"l":"COT-SAI","c":43,"e":"R","t":"-0,003"},{"l":"COT-SAI","c":44,"e":"R","t":"-0,002"},{"l":"COT-SAI","c":45,"e":"R","t":"-0,001"},{"l":"COT-SAI","c":46,"e":"R","t":"OUT"},{"l":"COT-SAI","c":47,"e":"R","t":"OUT"},{"l":"COT-SAI","c":48,"e":"R","t":"OUT"},{"l":"COT-SAI","c":49,"e":"G","t":"0,001"},{"l":"COT-SAI","c":50,"e":"W"},
{"l":"PRESENÇA ","c":0,"e":"G"},{"l":"PRESENÇA ","c":1,"e":"G"},{"l":"PRESENÇA ","c":2,"e":"G"},{"l":"PRESENÇA ","c":3,"e":"G"},{"l":"PRESENÇA ","c":4,"e":"G"},{"l":"PRESENÇA ","c":5,"e":"G"},{"l":"PRESENÇA ","c":6,"e":"R"},{"l":"PRESENÇA ","c":7,"e":"R"},{"l":"PRESENÇA ","c":8,"e":"R"},{"l":"PRESENÇA ","c":9,"e":"R"},{"l":"PRESENÇA ","c":10,"e":"R"},{"l":"PRESENÇA ","c":11,"e":"R"},{"l":"PRESENÇA ","c":12,"e":"R"},{"l":"PRESENÇA ","c":13,"e":"R"},{"l":"PRESENÇA ","c":14,"e":"R"},{"l":"PRESENÇA ","c":15,"e":"R"},{"l":"PRESENÇA ","c":16,"e":"R"},{"l":"PRESENÇA ","c":17,"e":"R"},{"l":"PRESENÇA ","c":18,"e":"G"},{"l":"PRESENÇA ","c":19,"e":"G"},{"l":"PRESENÇA ","c":20,"e":"G"},{"l":"PRESENÇA ","c":21,"e":"R"},{"l":"PRESENÇA ","c":22,"e":"G"},{"l":"PRESENÇA ","c":23,"e":"G"},{"l":"PRESENÇA ","c":24,"e":"G"},{"l":"PRESENÇA ","c":25,"e":"G"},{"l":"PRESENÇA ","c":26,"e":"G"},{"l":"PRESENÇA ","c":27,"e":"G"},{"l":"PRESENÇA ","c":28,"e":"R"},{"l":"PRESENÇA ","c":29,"e":"G"},{"l":"PRESENÇA ","c":30,"e":"G"},{"l":"PRESENÇA ","c":31,"e":"G"},{"l":"PRESENÇA ","c":32,"e":"G"},{"l":"PRESENÇA ","c":33,"e":"G"},{"l":"PRESENÇA ","c":34,"e":"R"},{"l":"PRESENÇA ","c":35,"e":"R"},{"l":"PRESENÇA ","c":36,"e":"R"},{"l":"PRESENÇA ","c":37,"e":"R"},{"l":"PRESENÇA ","c":38,"e":"R"},{"l":"PRESENÇA ","c":39,"e":"R"},{"l":"PRESENÇA ","c":40,"e":"R"},{"l":"PRESENÇA ","c":41,"e":"R"},{"l":"PRESENÇA ","c":42,"e":"R"},{"l":"PRESENÇA ","c":43,"e":"R"},{"l":"PRESENÇA ","c":44,"e":"R"},{"l":"PRESENÇA ","c":45,"e":"R"},{"l":"PRESENÇA ","c":46,"e":"R"},{"l":"PRESENÇA ","c":47,"e":"R"},{"l":"PRESENÇA ","c":48,"e":"R"},{"l":"PRESENÇA ","c":49,"e":"G"},{"l":"PRESENÇA ","c":50,"e":"W"}
],
"E":[
{"l":"LAST","c":0,"e":"G"},{"l":"LAST","c":1,"e":"G"},{"l":"LAST","c":2,"e":"G"},{"l":"LAST","c":3,"e":"G"},{"l":"LAST","c":4,"e":"G"},{"l":"LAST","c":5,"e":"G"},{"l":"LAST","c":6,"e":"R"},{"l":"LAST","c":7,"e":"R"},{"l":"LAST","c":8,"e":"R"},{"l":"LAST","c":9,"e":"R"},{"l":"LAST","c":10,"e":"R"},{"l":"LAST","c":11,"e":"R"},{"l":"LAST","c":12,"e":"R"},{"l":"LAST","c":13,"e":"R"},{"l":"LAST","c":14,"e":"R"},{"l":"LAST","c":15,"e":"R"},{"l":"LAST","c":16,"e":"R"},{"l":"LAST","c":17,"e":"R"},{"l":"LAST","c":18,"e":"G"},{"l":"LAST","c":19,"e":"G"},{"l":"LAST","c":20,"e":"G"},{"l":"LAST","c":21,"e":"R"},{"l":"LAST","c":22,"e":"G"},{"l":"LAST","c":23,"e":"G"},{"l":"LAST","c":24,"e":"G"},{"l":"LAST","c":25,"e":"G"},{"l":"LAST","c":26,"e":"G"},{"l":"LAST","c":27,"e":"G"},{"l":"LAST","c":28,"e":"R"},{"l":"LAST","c":29,"e":"G"},{"l":"LAST","c":30,"e":"G"},{"l":"LAST","c":31,"e":"G"},{"l":"LAST","c":32,"e":"G"},{"l":"LAST","c":33,"e":"G"},{"l":"LAST","c":34,"e":"R"},{"l":"LAST","c":35,"e":"R"},{"l":"LAST","c":36,"e":"R"},{"l":"LAST","c":37,"e":"R"},{"l":"LAST","c":38,"e":"R"},{"l":"LAST","c":39,"e":"R"},{"l":"LAST","c":40,"e":"R"},{"l":"LAST","c":41,"e":"R"},{"l":"LAST","c":42,"e":"R"},{"l":"LAST","c":43,"e":"R"},{"l":"LAST","c":44,"e":"R"},{"l":"LAST","c":45,"e":"R"},{"l":"LAST","c":46,"e":"R"},{"l":"LAST","c":47,"e":"R"},{"l":"LAST","c":48,"e":"R"},{"l":"LAST","c":49,"e":"G"},{"l":"LAST","c":50,"e":"G"},
{"l":"2PAG","c":0,"e":"G"},{"l":"2PAG","c":1,"e":"G"},{"l":"2PAG","c":2,"e":"G"},{"l":"2PAG","c":3,"e":"G"},{"l":"2PAG","c":4,"e":"G"},{"l":"2PAG","c":5,"e":"G"},{"l":"2PAG","c":6,"e":"R"},{"l":"2PAG","c":7,"e":"R"},{"l":"2PAG","c":8,"e":"R"},{"l":"2PAG","c":9,"e":"R"},{"l":"2PAG","c":10,"e":"R"},{"l":"2PAG","c":11,"e":"R"},{"l":"2PAG","c":12,"e":"R"},{"l":"2PAG","c":13,"e":"R"},{"l":"2PAG","c":14,"e":"R"},{"l":"2PAG","c":15,"e":"R"},{"l":"2PAG","c":16,"e":"R"},{"l":"2PAG","c":17,"e":"R"},{"l":"2PAG","c":18,"e":"R"},{"l":"2PAG","c":19,"e":"G"},{"l":"2PAG","c":20,"e":"G"},{"l":"2PAG","c":21,"e":"G"},{"l":"2PAG","c":22,"e":"G"},{"l":"2PAG","c":23,"e":"G"},{"l":"2PAG","c":24,"e":"G"},{"l":"2PAG","c":25,"e":"G"},{"l":"2PAG","c":26,"e":"G"},{"l":"2PAG","c":27,"e":"G"},{"l":"2PAG","c":28,"e":"G"},{"l":"2PAG","c":29,"e":"G"},{"l":"2PAG","c":30,"e":"G"},{"l":"2PAG","c":31,"e":"G"},{"l":"2PAG","c":32,"e":"G"},{"l":"2PAG","c":33,"e":"G"},{"l":"2PAG","c":34,"e":"R"},{"l":"2PAG","c":35,"e":"R"},{"l":"2PAG","c":36,"e":"R"},{"l":"2PAG","c":37,"e":"R"},{"l":"2PAG","c":38,"e":"R"},{"l":"2PAG","c":39,"e":"R"},{"l":"2PAG","c":40,"e":"R"},{"l":"2PAG","c":41,"e":"R"},{"l":"2PAG","c":42,"e":"R"},{"l":"2PAG","c":43,"e":"R"},{"l":"2PAG","c":44,"e":"R"},{"l":"2PAG","c":45,"e":"R"},{"l":"2PAG","c":46,"e":"R"},{"l":"2PAG","c":47,"e":"R"},{"l":"2PAG","c":48,"e":"R"},{"l":"2PAG","c":49,"e":"G"},{"l":"2PAG","c":50,"e":"G"}
]
},
"layer":[
{"data":{"name":"chart"},"mark":{"type":"bar"},"encoding":{"x":{"field":"d","type":"nominal","sort":null,"title":null,"scale":{"type":"band","range":[68,1496],"paddingInner":0.04,"paddingOuter":0.02},"axis":{"orient":"bottom","offset":-361,"tickBand":"extent","domainColor":"#C0C0C0","tickColor":"#C0C0C0","tickSize":3,"labelAngle":-90,"labelFont":"Liberation Sans","labelFontSize":9,"labelColor":"#404040","labelPadding":3,"labelOverlap":false,"title":null}},"y":{"field":"f","type":"quantitative","title":null,"scale":{"domain":[0.06,0.105],"range":[255,7],"zero":false,"nice":false},"axis":{"orient":"left","offset":-68,"domain":false,"ticks":false,"grid":false,"values":[0.06,0.065,0.07,0.075,0.08,0.085,0.09,0.095,0.1,0.105],"labelExpr":"replace(format(datum.value,'.4f'),'.',',')","labelFont":"Liberation Sans","labelFontWeight":"bold","labelFontSize":10.5,"labelColor":"#595959","labelPadding":10,"title":null}},"y2":{"datum":0.06},"color":{"field":"e","type":"nominal","legend":null,"scale":{"domain":["G","R"],"range":["#00FF00","#FF0000"]}}}},
{"data":{"name":"chart"},"mark":{"type":"line","color":"#0066FF","strokeWidth":6.5},"encoding":{"x":{"field":"d","type":"nominal","axis":null,"scale":{"type":"band","domain":["22/10","23/10","24/10","27/10","28/10","29/10","30/10","31/10","03/11","04/11","05/11","06/11","07/11","10/11","11/11","12/11","13/11","14/11","17/11","18/11","19/11","20/11","21/11","24/11","25/11","26/11","27/11","28/11","01/12","02/12","03/12","04/12","05/12","08/12","09/12","10/12","11/12","12/12","15/12","16/12","17/12","18/12","19/12","22/12","23/12","24/12","29/12","30/12","31/12","02/01"," "],"range":[68,1496],"paddingInner":0.04,"paddingOuter":0.02}},"y":{"field":"cot","type":"quantitative","axis":null,"scale":{"domain":[0.06,0.105],"range":[255,7],"zero":false,"nice":false}}}},
{"data":{"name":"chart"},"mark":{"type":"point","filled":true,"fill":"white","stroke":"#0066FF","strokeWidth":3.5,"size":130,"opacity":1},"encoding":{"x":{"field":"d","type":"nominal","axis":null,"scale":{"type":"band","domain":["22/10","23/10","24/10","27/10","28/10","29/10","30/10","31/10","03/11","04/11","05/11","06/11","07/11","10/11","11/11","12/11","13/11","14/11","17/11","18/11","19/11","20/11","21/11","24/11","25/11","26/11","27/11","28/11","01/12","02/12","03/12","04/12","05/12","08/12","09/12","10/12","11/12","12/12","15/12","16/12","17/12","18/12","19/12","22/12","23/12","24/12","29/12","30/12","31/12","02/01"," "],"range":[68,1496],"paddingInner":0.04,"paddingOuter":0.02}},"y":{"field":"cot","type":"quantitative","axis":null,"scale":{"domain":[0.06,0.105],"range":[255,7],"zero":false,"nice":false}}}},
{"data":{"name":"chart"},"mark":{"type":"line","color":"#000000","strokeWidth":6.5},"encoding":{"x":{"field":"d","type":"nominal","axis":null,"scale":{"type":"band","domain":["22/10","23/10","24/10","27/10","28/10","29/10","30/10","31/10","03/11","04/11","05/11","06/11","07/11","10/11","11/11","12/11","13/11","14/11","17/11","18/11","19/11","20/11","21/11","24/11","25/11","26/11","27/11","28/11","01/12","02/12","03/12","04/12","05/12","08/12","09/12","10/12","11/12","12/12","15/12","16/12","17/12","18/12","19/12","22/12","23/12","24/12","29/12","30/12","31/12","02/01"," "],"range":[68,1496],"paddingInner":0.04,"paddingOuter":0.02}},"y":{"field":"ref","type":"quantitative","axis":null,"scale":{"domain":[0.06,0.105],"range":[255,7],"zero":false,"nice":false}}}},
{"data":{"name":"chart"},"mark":{"type":"point","filled":true,"fill":"white","stroke":"#000000","strokeWidth":3.5,"size":130,"opacity":1},"encoding":{"x":{"field":"d","type":"nominal","axis":null,"scale":{"type":"band","domain":["22/10","23/10","24/10","27/10","28/10","29/10","30/10","31/10","03/11","04/11","05/11","06/11","07/11","10/11","11/11","12/11","13/11","14/11","17/11","18/11","19/11","20/11","21/11","24/11","25/11","26/11","27/11","28/11","01/12","02/12","03/12","04/12","05/12","08/12","09/12","10/12","11/12","12/12","15/12","16/12","17/12","18/12","19/12","22/12","23/12","24/12","29/12","30/12","31/12","02/01"," "],"range":[68,1496],"paddingInner":0.04,"paddingOuter":0.02}},"y":{"field":"ref","type":"quantitative","axis":null,"scale":{"domain":[0.06,0.105],"range":[255,7],"zero":false,"nice":false}}}},
{"data":{"name":"quadro"},"mark":{"type":"rect","fill":"#0066FF","stroke":"#000000","strokeWidth":1},"encoding":{"x":{"field":"q","type":"nominal","axis":null,"scale":{"type":"band","range":[-2,1518.5],"padding":0}},"y":{"field":"q","type":"nominal","axis":null,"scale":{"type":"band","range":[294.5,620],"padding":0}}}},
{"data":{"name":"quadro"},"mark":{"type":"rect","fill":"#000000"},"encoding":{"x":{"field":"q","type":"nominal","axis":null,"scale":{"type":"band","range":[0,1496.5],"padding":0}},"y":{"field":"q","type":"nominal","axis":null,"scale":{"type":"band","range":[321.5,616],"padding":0}}}},
{"data":{"name":"quadro"},"mark":{"type":"text","font":"Lato","fontWeight":"bold","fontSize":19,"color":"white"},"encoding":{"text":{"field":"q"},"x":{"field":"q","type":"nominal","axis":null,"scale":{"type":"band","range":[0,1519],"padding":0}},"y":{"field":"q","type":"nominal","axis":null,"scale":{"type":"band","range":[295,321],"padding":0}}}},
{"data":{"name":"quadro"},"mark":{"type":"text","font":"Lato","fontWeight":"bold","fontSize":16,"angle":270,"color":"white"},"encoding":{"text":{"field":"q"},"x":{"field":"q","type":"nominal","axis":null,"scale":{"type":"band","range":[1497,1519],"padding":0}},"y":{"field":"q","type":"nominal","axis":null,"scale":{"type":"band","range":[453,482],"padding":0}}}},
{"data":{"name":"A"},"mark":{"type":"rect","stroke":"#000000","strokeWidth":1},"encoding":{"x":{"field":"c","type":"ordinal","sort":null,"axis":null,"scale":{"type":"band","range":[68.5,1496.5],"padding":0}},"y":{"field":"l","type":"nominal","sort":null,"axis":null,"scale":{"type":"band","range":[321.5,453.5],"padding":0}},"color":{"field":"e","type":"nominal","legend":null,"scale":{"domain":["G","R","W","E","C","Y","P"],"range":["#00FF00","#FF0000","#FFFFFF","#CCFFCC","#00FFFF","#FFFF00","#FFCCCC"]}}}},
{"data":{"name":"B"},"mark":{"type":"rect","stroke":"#000000","strokeWidth":1},"encoding":{"x":{"field":"c","type":"ordinal","sort":null,"axis":null,"scale":{"type":"band","range":[68.5,1496.5],"padding":0}},"y":{"field":"l","type":"nominal","sort":null,"axis":null,"scale":{"type":"band","range":[454.5,500.5],"padding":0}},"color":{"field":"e","type":"nominal","legend":null,"scale":{"domain":["G","R","W","E","C","Y","P"],"range":["#00FF00","#FF0000","#FFFFFF","#CCFFCC","#00FFFF","#FFFF00","#FFCCCC"]}}}},
{"data":{"name":"C"},"mark":{"type":"rect","stroke":"#000000","strokeWidth":1},"encoding":{"x":{"field":"c","type":"ordinal","sort":null,"axis":null,"scale":{"type":"band","range":[68.5,1496.5],"padding":0}},"y":{"field":"l","type":"nominal","sort":null,"axis":null,"scale":{"type":"band","range":[503,593.5],"padding":0}},"color":{"field":"e","type":"nominal","legend":null,"scale":{"domain":["G","R","W","E","C","Y","P"],"range":["#00FF00","#FF0000","#FFFFFF","#CCFFCC","#00FFFF","#FFFF00","#FFCCCC"]}}}},
{"data":{"name":"E"},"mark":{"type":"rect","stroke":"#000000","strokeWidth":1},"encoding":{"x":{"field":"c","type":"ordinal","sort":null,"axis":null,"scale":{"type":"band","range":[68.5,1496.5],"padding":0}},"y":{"field":"l","type":"nominal","sort":null,"axis":null,"scale":{"type":"band","range":[595.5,616.5],"padding":0}},"color":{"field":"e","type":"nominal","legend":null,"scale":{"domain":["G","R","W","E","C","Y","P"],"range":["#00FF00","#FF0000","#FFFFFF","#CCFFCC","#00FFFF","#FFFF00","#FFCCCC"]}}}},
{"data":{"name":"A"},"transform":[{"filter":"datum.l!='VARIAÇÃO'"}],"mark":{"type":"point","filled":true,"size":80,"strokeWidth":1,"opacity":1},"encoding":{"x":{"field":"c","type":"ordinal","sort":null,"axis":null,"scale":{"type":"band","range":[68.5,1496.5],"padding":0}},"y":{"field":"l","type":"nominal","sort":null,"axis":null,"scale":{"type":"band","range":[333.5,453.5],"padding":0}},"fill":{"field":"e","type":"nominal","legend":null,"scale":{"domain":["G","R","W"],"range":["#62A87A","#F08888","#FCCB55"]}},"stroke":{"field":"e","type":"nominal","legend":null,"scale":{"domain":["G","R","W"],"range":["#2F7A48","#D85050","#E8981C"]}}}},
{"data":{"name":"C"},"transform":[{"filter":"datum.l=='PRESENÇA'||datum.l=='PRESENÇA '"}],"mark":{"type":"point","filled":true,"size":80,"strokeWidth":1,"opacity":1},"encoding":{"x":{"field":"c","type":"ordinal","sort":null,"axis":null,"scale":{"type":"band","range":[68.5,1496.5],"padding":0}},"y":{"field":"l","type":"nominal","axis":null,"scale":{"type":"band","domain":["ENTRADA","COTAÇÃO","REFERÊNCIA","SAIDA","COT-REF","PRESENÇA","COT-SAI","PRESENÇA "],"range":[503,593.5],"padding":0}},"fill":{"field":"e","type":"nominal","legend":null,"scale":{"domain":["G","R","W"],"range":["#62A87A","#F08888","#FFFFFF"]}},"stroke":{"field":"e","type":"nominal","legend":null,"scale":{"domain":["G","R","W"],"range":["#2F7A48","#D85050","#FFFFFF"]}}}},
{"data":{"name":"E"},"mark":{"type":"point","filled":true,"size":80,"strokeWidth":1,"opacity":1},"encoding":{"x":{"field":"c","type":"ordinal","sort":null,"axis":null,"scale":{"type":"band","range":[68.5,1496.5],"padding":0}},"y":{"field":"l","type":"nominal","sort":null,"axis":null,"scale":{"type":"band","range":[595.5,616.5],"padding":0}},"fill":{"field":"e","type":"nominal","legend":null,"scale":{"domain":["G","R"],"range":["#62A87A","#F08888"]}},"stroke":{"field":"e","type":"nominal","legend":null,"scale":{"domain":["G","R"],"range":["#2F7A48","#D85050"]}}}},
{"data":{"name":"A"},"transform":[{"filter":"datum.l=='VARIAÇÃO'&&isValid(datum.t)"}],"mark":{"type":"text","font":"Liberation Sans","fontSize":9},"encoding":{"text":{"field":"t"},"x":{"field":"c","type":"ordinal","axis":null,"scale":{"type":"band","domain":[0,1,2,3,4,5,6,7,8,9,10,11,12,13,14,15,16,17,18,19,20,21,22,23,24,25,26,27,28,29,30,31,32,33,34,35,36,37,38,39,40,41,42,43,44,45,46,47,48,49,50],"range":[68.5,1496.5],"padding":0}},"y":{"field":"l","type":"nominal","axis":null,"scale":{"type":"band","domain":["VARIAÇÃO"],"range":[321.5,333.5],"padding":0}},"color":{"field":"e","type":"nominal","legend":null,"scale":{"domain":["G","R","W"],"range":["#000000","#FFFFFF","#000000"]}}}},
{"data":{"name":"B"},"transform":[{"filter":"isValid(datum.t)"}],"mark":{"type":"text","font":"Liberation Sans","fontSize":9.5},"encoding":{"text":{"field":"t"},"x":{"field":"c","type":"ordinal","axis":null,"scale":{"type":"band","domain":[0,1,2,3,4,5,6,7,8,9,10,11,12,13,14,15,16,17,18,19,20,21,22,23,24,25,26,27,28,29,30,31,32,33,34,35,36,37,38,39,40,41,42,43,44,45,46,47,48,49,50],"range":[68.5,1496.5],"padding":0}},"y":{"field":"l","type":"nominal","axis":null,"scale":{"type":"band","domain":["IN","VAR ACM +","OUT","VAR ACM -"],"range":[454.5,500.5],"padding":0}},"color":{"field":"e","type":"nominal","legend":null,"scale":{"domain":["G","R"],"range":["#000000","#FFFFFF"]}}}},
{"data":{"name":"C"},"transform":[{"filter":"(datum.l=='ENTRADA'||datum.l=='COTAÇÃO'||datum.l=='REFERÊNCIA'||datum.l=='SAIDA')&&isValid(datum.t)&&datum.t!='DENTRO'&&datum.t!='FORA'"}],"mark":{"type":"text","font":"DejaVu Sans","fontSize":6.3,"color":"#000000"},"encoding":{"text":{"field":"t"},"x":{"field":"c","type":"ordinal","axis":null,"scale":{"type":"band","domain":[0,1,2,3,4,5,6,7,8,9,10,11,12,13,14,15,16,17,18,19,20,21,22,23,24,25,26,27,28,29,30,31,32,33,34,35,36,37,38,39,40,41,42,43,44,45,46,47,48,49,50],"range":[68.5,1496.5],"padding":0}},"y":{"field":"l","type":"nominal","axis":null,"scale":{"type":"band","domain":["ENTRADA","COTAÇÃO","REFERÊNCIA","SAIDA","COT-REF","PRESENÇA","COT-SAI","PRESENÇA "],"range":[503,593.5],"padding":0}}}},
{"data":{"name":"C"},"transform":[{"filter":"datum.t=='DENTRO'||datum.t=='FORA'"}],"mark":{"type":"text","font":"Liberation Sans","fontWeight":"bold","fontSize":7.8},"encoding":{"text":{"field":"t"},"x":{"field":"c","type":"ordinal","axis":null,"scale":{"type":"band","domain":[0,1,2,3,4,5,6,7,8,9,10,11,12,13,14,15,16,17,18,19,20,21,22,23,24,25,26,27,28,29,30,31,32,33,34,35,36,37,38,39,40,41,42,43,44,45,46,47,48,49,50],"range":[68.5,1496.5],"padding":0}},"y":{"field":"l","type":"nominal","axis":null,"scale":{"type":"band","domain":["ENTRADA","COTAÇÃO","REFERÊNCIA","SAIDA","COT-REF","PRESENÇA","COT-SAI","PRESENÇA "],"range":[503,593.5],"padding":0}},"color":{"field":"e","type":"nominal","legend":null,"scale":{"domain":["G","R"],"range":["#000000","#FFFFFF"]}}}},
{"data":{"name":"C"},"transform":[{"filter":"(datum.l=='COT-REF'||datum.l=='COT-SAI')&&isValid(datum.t)"}],"mark":{"type":"text","font":"DejaVu Sans","fontWeight":"bold","fontSize":5.8},"encoding":{"text":{"field":"t"},"x":{"field":"c","type":"ordinal","axis":null,"scale":{"type":"band","domain":[0,1,2,3,4,5,6,7,8,9,10,11,12,13,14,15,16,17,18,19,20,21,22,23,24,25,26,27,28,29,30,31,32,33,34,35,36,37,38,39,40,41,42,43,44,45,46,47,48,49,50],"range":[68.5,1496.5],"padding":0}},"y":{"field":"l","type":"nominal","axis":null,"scale":{"type":"band","domain":["ENTRADA","COTAÇÃO","REFERÊNCIA","SAIDA","COT-REF","PRESENÇA","COT-SAI","PRESENÇA "],"range":[503,593.5],"padding":0}},"color":{"field":"e","type":"nominal","legend":null,"scale":{"domain":["G","R"],"range":["#000000","#FFFFFF"]}}}},
{"data":{"name":"rotulos"},"transform":[{"filter":"datum.s=='A'"}],"mark":{"type":"rect","stroke":"#000000","strokeWidth":1},"encoding":{"x":{"field":"s","type":"nominal","axis":null,"scale":{"type":"band","range":[0,68.5],"padding":0}},"y":{"field":"l","type":"nominal","sort":null,"axis":null,"scale":{"type":"band","range":[321.5,453.5],"padding":0}},"color":{"field":"k","type":"nominal","legend":null,"scale":{"domain":["branco","ciano","azul","verde","vermelho","claro","amarelo","rosa","preto"],"range":["#FFFFFF","#00FFFF","#00FFFF","#00FF00","#FF0000","#CCFFCC","#FFFF00","#FFCCCC","#000000"]}}}},
{"data":{"name":"rotulos"},"transform":[{"filter":"datum.s=='B'"}],"mark":{"type":"rect","stroke":"#000000","strokeWidth":1},"encoding":{"x":{"field":"s","type":"nominal","axis":null,"scale":{"type":"band","range":[0,68.5],"padding":0}},"y":{"field":"l","type":"nominal","sort":null,"axis":null,"scale":{"type":"band","range":[454.5,500.5],"padding":0}},"color":{"field":"k","type":"nominal","legend":null,"scale":{"domain":["branco","ciano","azul","verde","vermelho","claro","amarelo","rosa","preto"],"range":["#FFFFFF","#00FFFF","#00FFFF","#00FF00","#FF0000","#CCFFCC","#FFFF00","#FFCCCC","#000000"]}}}},
{"data":{"name":"rotulos"},"transform":[{"filter":"datum.s=='C'"}],"mark":{"type":"rect"},"encoding":{"x":{"field":"s","type":"nominal","axis":null,"scale":{"type":"band","range":[0,68.5],"padding":0}},"y":{"field":"l","type":"nominal","sort":null,"axis":null,"scale":{"type":"band","range":[503,593.5],"padding":0}},"color":{"field":"k","type":"nominal","legend":null,"scale":{"domain":["branco","ciano","azul","verde","vermelho","claro","amarelo","rosa","preto"],"range":["#FFFFFF","#00FFFF","#00FFFF","#00FF00","#FF0000","#CCFFCC","#FFFF00","#FFCCCC","#000000"]}}}},
{"data":{"name":"rotulos"},"transform":[{"filter":"datum.s=='E'"}],"mark":{"type":"rect"},"encoding":{"x":{"field":"s","type":"nominal","axis":null,"scale":{"type":"band","range":[0,68.5],"padding":0}},"y":{"field":"l","type":"nominal","sort":null,"axis":null,"scale":{"type":"band","range":[595.5,616.5],"padding":0}},"color":{"field":"k","type":"nominal","legend":null,"scale":{"domain":["branco","ciano","azul","verde","vermelho","claro","amarelo","rosa","preto"],"range":["#FFFFFF","#00FFFF","#00FFFF","#00FF00","#FF0000","#CCFFCC","#FFFF00","#FFCCCC","#000000"]}}}},
{"data":{"name":"rotulos"},"transform":[{"filter":"datum.s=='A'"}],"mark":{"type":"text","font":"Liberation Sans","fontSize":10,"align":"left","dx":2.5},"encoding":{"text":{"field":"l"},"x":{"field":"s","type":"nominal","bandPosition":0,"axis":null,"scale":{"type":"band","range":[0,68.5],"padding":0}},"y":{"field":"l","type":"nominal","sort":null,"axis":null,"scale":{"type":"band","range":[321.5,453.5],"padding":0}},"color":{"field":"k","type":"nominal","legend":null,"scale":{"domain":["branco","ciano"],"range":["#000000","#000000"]}}}},
{"data":{"name":"rotulos"},"transform":[{"filter":"datum.s=='B'"}],"mark":{"type":"text","font":"DejaVu Sans","fontWeight":"bold","fontSize":9},"encoding":{"text":{"field":"l"},"x":{"field":"s","type":"nominal","axis":null,"scale":{"type":"band","range":[0,68.5],"padding":0}},"y":{"field":"l","type":"nominal","sort":null,"axis":null,"scale":{"type":"band","range":[454.5,500.5],"padding":0}},"color":{"field":"k","type":"nominal","legend":null,"scale":{"domain":["verde","vermelho"],"range":["#000000","#FFFFFF"]}}}},
{"data":{"name":"rotulos"},"transform":[{"filter":"datum.s=='C'"}],"mark":{"type":"text","font":"Liberation Sans","fontSize":10,"align":"left","dx":2.5},"encoding":{"text":{"field":"l"},"x":{"field":"s","type":"nominal","bandPosition":0,"axis":null,"scale":{"type":"band","range":[0,68.5],"padding":0}},"y":{"field":"l","type":"nominal","sort":null,"axis":null,"scale":{"type":"band","range":[503,593.5],"padding":0}},"color":{"field":"k","type":"nominal","legend":null,"scale":{"domain":["branco","ciano","claro","amarelo","rosa","preto"],"range":["#000000","#000000","#000000","#000000","#000000","#FFFFFF"]}}}},
{"data":{"name":"rotulos"},"transform":[{"filter":"datum.s=='E'"}],"mark":{"type":"text","font":"Liberation Sans","fontSize":10,"align":"left","dx":2.5},"encoding":{"text":{"field":"l"},"x":{"field":"s","type":"nominal","bandPosition":0,"axis":null,"scale":{"type":"band","range":[0,68.5],"padding":0}},"y":{"field":"l","type":"nominal","sort":null,"axis":null,"scale":{"type":"band","range":[595.5,616.5],"padding":0}},"color":{"field":"k","type":"nominal","legend":null,"scale":{"domain":["azul","preto"],"range":["#000080","#FFFFFF"]}}}},
{"data":{"name":"totais"},"transform":[{"filter":"datum.s=='A'"}],"mark":{"type":"rect","fill":"#00FF00","stroke":"#808080","strokeWidth":1},"encoding":{"x":{"field":"s","type":"nominal","axis":null,"scale":{"type":"band","range":[1519,1554],"padding":0}},"y":{"field":"l","type":"nominal","sort":null,"axis":null,"scale":{"type":"band","range":[333.5,453.5],"padding":0}}}},
{"data":{"name":"totais"},"transform":[{"filter":"datum.s=='C'"}],"mark":{"type":"rect","fill":"#00FF00","stroke":"#808080","strokeWidth":1},"encoding":{"x":{"field":"s","type":"nominal","axis":null,"scale":{"type":"band","range":[1519,1554],"padding":0}},"y":{"field":"l","type":"nominal","sort":null,"axis":null,"scale":{"type":"band","range":[549.5,593.5],"padding":0}}}},
{"data":{"name":"totais"},"transform":[{"filter":"datum.s=='E'"}],"mark":{"type":"rect","fill":"#00FF00","stroke":"#808080","strokeWidth":1},"encoding":{"x":{"field":"s","type":"nominal","axis":null,"scale":{"type":"band","range":[1519,1554],"padding":0}},"y":{"field":"l","type":"nominal","sort":null,"axis":null,"scale":{"type":"band","range":[594.5,616.5],"padding":0}}}},
{"data":{"name":"totais"},"transform":[{"filter":"datum.s=='A'"}],"mark":{"type":"text","font":"DejaVu Sans","fontWeight":"bold","fontSize":9,"color":"#000000"},"encoding":{"text":{"field":"v"},"x":{"field":"s","type":"nominal","axis":null,"scale":{"type":"band","range":[1519,1553],"padding":0}},"y":{"field":"l","type":"nominal","sort":null,"axis":null,"scale":{"type":"band","range":[333.5,453.5],"padding":0}}}},
{"data":{"name":"totais"},"transform":[{"filter":"datum.s=='C'"}],"mark":{"type":"text","font":"DejaVu Sans","fontWeight":"bold","fontSize":9,"color":"#000000"},"encoding":{"text":{"field":"v"},"x":{"field":"s","type":"nominal","axis":null,"scale":{"type":"band","range":[1519,1553],"padding":0}},"y":{"field":"l","type":"nominal","sort":null,"axis":null,"scale":{"type":"band","range":[549.5,593.5],"padding":0}}}},
{"data":{"name":"totais"},"transform":[{"filter":"datum.s=='E'"}],"mark":{"type":"text","font":"DejaVu Sans","fontWeight":"bold","fontSize":9,"color":"#000000"},"encoding":{"text":{"field":"v"},"x":{"field":"s","type":"nominal","axis":null,"scale":{"type":"band","range":[1519,1553],"padding":0}},"y":{"field":"l","type":"nominal","sort":null,"axis":null,"scale":{"type":"band","range":[594.5,616.5],"padding":0}}}}
],
"resolve":{"scale":{"x":"independent","y":"independent","color":"independent","fill":"independent","stroke":"independent"},"axis":{"x":"independent","y":"independent"},"legend":{"color":"independent","fill":"independent","stroke":"independent"}}}
